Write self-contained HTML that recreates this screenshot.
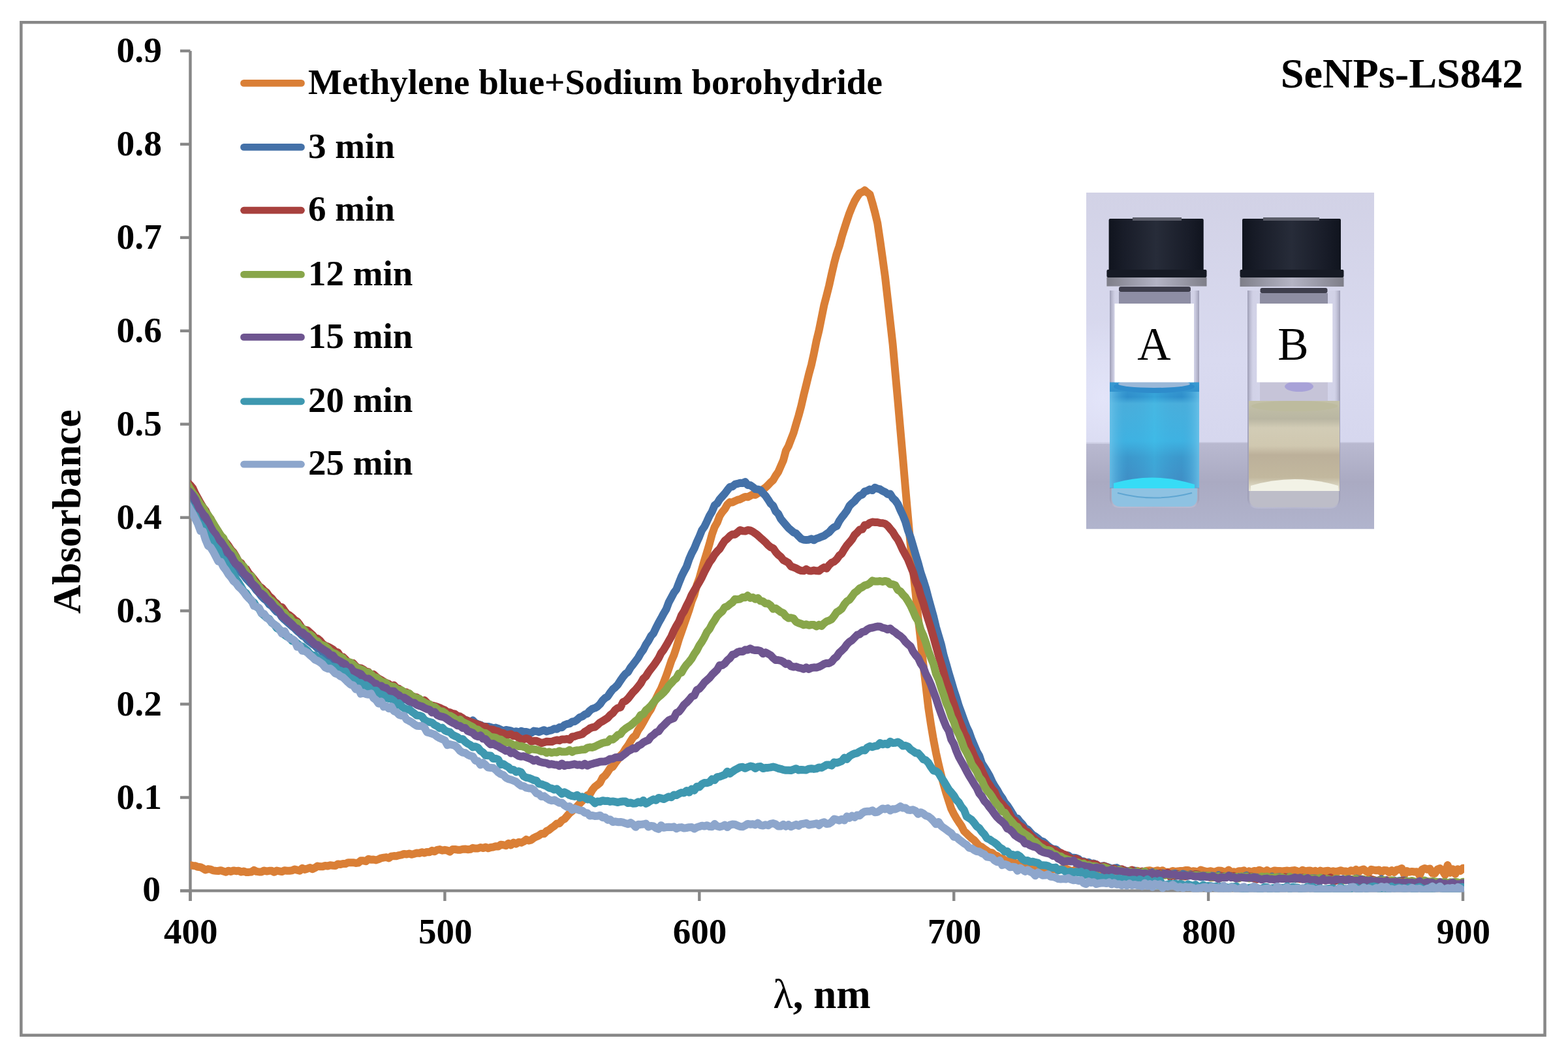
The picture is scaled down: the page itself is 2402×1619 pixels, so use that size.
<!DOCTYPE html>
<html><head><meta charset="utf-8"><title>SeNPs-LS842 absorbance</title>
<style>
html,body{margin:0;padding:0;background:#fff;}
body{width:2402px;height:1619px;overflow:hidden;}
svg{display:block;}
.t{font-family:"Liberation Serif","Times New Roman",serif;font-weight:bold;fill:#000;}
</style></head><body>
<svg width="2402" height="1619" viewBox="0 0 2402 1619">
<rect x="0" y="0" width="2402" height="1619" fill="#fff"/>
<rect x="32.35" y="34.25" width="2334.2" height="1551.4" fill="none" stroke="#878787" stroke-width="4.5"/>
<g stroke="#878787" stroke-width="4.4" fill="none">
<line x1="291.5" y1="78" x2="291.5" y2="1380"/>
<line x1="276" y1="1364.4" x2="2242.5" y2="1364.4"/>
<line x1="276" y1="1364.4" x2="291.5" y2="1364.4"/><line x1="276" y1="1221.5" x2="291.5" y2="1221.5"/><line x1="276" y1="1078.5" x2="291.5" y2="1078.5"/><line x1="276" y1="935.6" x2="291.5" y2="935.6"/><line x1="276" y1="792.7" x2="291.5" y2="792.7"/><line x1="276" y1="649.7" x2="291.5" y2="649.7"/><line x1="276" y1="506.8" x2="291.5" y2="506.8"/><line x1="276" y1="363.9" x2="291.5" y2="363.9"/><line x1="276" y1="220.9" x2="291.5" y2="220.9"/><line x1="276" y1="78.0" x2="291.5" y2="78.0"/><line x1="291.5" y1="1364.4" x2="291.5" y2="1380"/><line x1="681.4" y1="1364.4" x2="681.4" y2="1380"/><line x1="1071.3" y1="1364.4" x2="1071.3" y2="1380"/><line x1="1461.2" y1="1364.4" x2="1461.2" y2="1380"/><line x1="1851.1" y1="1364.4" x2="1851.1" y2="1380"/><line x1="2241.0" y1="1364.4" x2="2241.0" y2="1380"/>
</g>
<g class="t" font-size="55">
<text x="246.0" y="1379.6" text-anchor="end" font-size="55.6">0</text><text x="248.0" y="1238.8" text-anchor="end" font-size="55.6">0.1</text><text x="248.0" y="1095.8" text-anchor="end" font-size="55.6">0.2</text><text x="248.0" y="952.9" text-anchor="end" font-size="55.6">0.3</text><text x="248.0" y="810.0" text-anchor="end" font-size="55.6">0.4</text><text x="248.0" y="667.0" text-anchor="end" font-size="55.6">0.5</text><text x="248.0" y="524.1" text-anchor="end" font-size="55.6">0.6</text><text x="248.0" y="381.2" text-anchor="end" font-size="55.6">0.7</text><text x="248.0" y="238.2" text-anchor="end" font-size="55.6">0.8</text><text x="248.0" y="95.3" text-anchor="end" font-size="55.6">0.9</text>
<text x="292.3" y="1445" text-anchor="middle">400</text><text x="682.2" y="1445" text-anchor="middle">500</text><text x="1072.1" y="1445" text-anchor="middle">600</text><text x="1462.0" y="1445" text-anchor="middle">700</text><text x="1851.9" y="1445" text-anchor="middle">800</text><text x="2241.8" y="1445" text-anchor="middle">900</text>
</g>
<g fill="none" stroke-width="12" stroke-linejoin="round" stroke-linecap="butt" clip-path="url(#plotclip)">
<clipPath id="plotclip"><rect x="291.5" y="40" width="1951.5" height="1326.5"/></clipPath>
<path d="M283.5 1322.5 L291.5 1325.3 L295.4 1325.9 L299.3 1326.3 L303.2 1327.8 L307.1 1328.2 L311.0 1330.2 L314.9 1332.4 L318.8 1331.1 L322.7 1331.6 L326.6 1333.4 L330.5 1333.8 L334.4 1334.0 L338.3 1333.2 L342.2 1334.6 L346.1 1335.7 L350.0 1333.7 L353.9 1334.9 L357.8 1333.4 L361.7 1334.2 L365.6 1333.7 L369.5 1335.5 L373.4 1334.4 L377.3 1336.1 L381.2 1335.9 L385.1 1335.5 L389.0 1332.9 L392.9 1334.9 L396.8 1335.4 L400.7 1335.4 L404.6 1333.5 L408.5 1334.5 L412.4 1333.8 L416.3 1333.8 L420.2 1335.8 L424.1 1333.6 L428.0 1334.3 L431.9 1335.1 L435.8 1333.3 L439.7 1333.7 L443.6 1333.7 L447.5 1333.3 L451.4 1331.6 L455.3 1332.6 L459.2 1333.6 L463.1 1329.8 L467.0 1331.9 L470.9 1330.5 L474.8 1329.0 L478.7 1331.2 L482.6 1329.2 L486.5 1326.5 L490.3 1327.3 L494.2 1327.3 L498.1 1326.0 L502.0 1326.5 L505.9 1325.3 L509.8 1325.7 L513.7 1326.1 L517.6 1323.4 L521.5 1324.0 L525.4 1322.9 L529.3 1323.1 L533.2 1321.2 L537.1 1321.3 L541.0 1321.2 L544.9 1321.9 L548.8 1321.6 L552.7 1318.3 L556.6 1318.3 L560.5 1319.2 L564.4 1315.7 L568.3 1316.8 L572.2 1316.5 L576.1 1317.4 L580.0 1316.1 L583.9 1314.3 L587.8 1313.6 L591.7 1313.1 L595.6 1314.4 L599.5 1311.6 L603.4 1311.1 L607.3 1311.2 L611.2 1310.1 L615.1 1309.4 L619.0 1307.9 L622.9 1308.5 L626.8 1307.5 L630.7 1308.8 L634.6 1307.7 L638.5 1306.5 L642.4 1306.9 L646.3 1305.3 L650.2 1306.5 L654.1 1304.9 L658.0 1305.2 L661.9 1302.8 L665.8 1304.3 L669.7 1301.8 L673.6 1301.1 L677.5 1302.7 L681.4 1301.8 L685.3 1302.7 L689.2 1304.7 L693.1 1301.1 L697.0 1301.0 L700.9 1301.7 L704.8 1301.8 L708.7 1300.8 L712.6 1300.5 L716.5 1301.2 L720.4 1300.8 L724.3 1298.8 L728.2 1299.6 L732.1 1299.5 L736.0 1298.0 L739.9 1299.1 L743.8 1297.6 L747.7 1299.3 L751.6 1298.0 L755.5 1297.5 L759.4 1296.3 L763.3 1296.4 L767.2 1293.8 L771.1 1294.2 L775.0 1295.2 L778.9 1291.8 L782.8 1294.4 L786.7 1290.7 L790.6 1292.6 L794.5 1289.9 L798.4 1290.7 L802.3 1288.9 L806.2 1285.9 L810.1 1287.6 L814.0 1286.4 L817.9 1283.3 L821.8 1281.4 L825.7 1279.7 L829.6 1276.9 L833.5 1277.1 L837.4 1273.0 L841.3 1271.1 L845.2 1267.7 L849.1 1265.2 L853.0 1261.5 L856.9 1261.3 L860.8 1256.5 L864.7 1254.5 L868.6 1250.0 L872.5 1245.6 L876.4 1242.4 L880.2 1238.3 L884.1 1235.1 L888.0 1230.8 L891.9 1226.8 L895.8 1221.6 L899.7 1218.1 L903.6 1216.6 L907.5 1209.8 L911.4 1205.0 L915.3 1202.1 L919.2 1198.8 L923.1 1191.1 L927.0 1187.8 L930.9 1182.6 L934.8 1176.6 L938.7 1174.4 L942.6 1168.6 L946.5 1163.6 L950.4 1157.5 L954.3 1153.6 L958.2 1147.1 L962.1 1142.0 L966.0 1135.3 L969.9 1129.4 L973.8 1126.3 L977.7 1118.2 L981.6 1112.8 L985.5 1106.0 L989.4 1098.9 L993.3 1091.9 L997.2 1086.1 L1001.1 1077.6 L1005.0 1070.0 L1008.9 1062.1 L1012.8 1054.8 L1016.7 1045.3 L1020.6 1035.3 L1024.5 1024.0 L1028.4 1012.3 L1032.3 1003.5 L1036.2 991.8 L1040.1 978.8 L1044.0 967.7 L1047.9 956.5 L1051.8 945.2 L1055.7 934.0 L1059.6 921.0 L1063.5 911.5 L1067.4 896.4 L1071.3 885.9 L1075.2 871.9 L1079.1 858.4 L1083.0 845.9 L1086.9 832.8 L1090.8 818.3 L1094.7 807.3 L1098.6 800.6 L1102.5 790.2 L1106.4 784.3 L1110.3 779.7 L1114.2 772.8 L1118.1 769.1 L1122.0 769.5 L1125.9 767.4 L1129.8 765.7 L1133.7 764.8 L1137.6 762.7 L1141.5 760.9 L1145.4 761.3 L1149.3 759.3 L1153.2 757.2 L1157.1 758.0 L1161.0 755.4 L1164.9 753.7 L1168.8 749.5 L1172.7 746.8 L1176.6 742.9 L1180.5 738.9 L1184.4 735.3 L1188.3 728.5 L1192.2 722.8 L1196.1 713.9 L1200.0 705.0 L1203.9 690.4 L1207.8 683.4 L1211.7 673.1 L1215.6 663.1 L1219.5 649.6 L1223.4 636.6 L1227.3 622.1 L1231.2 605.1 L1235.1 589.5 L1239.0 573.4 L1242.9 559.1 L1246.8 541.5 L1250.7 522.0 L1254.6 506.0 L1258.5 486.6 L1262.4 467.3 L1266.3 452.5 L1270.1 437.4 L1274.0 419.6 L1277.9 402.8 L1281.8 388.4 L1285.7 376.8 L1289.6 362.6 L1293.5 349.9 L1297.4 337.8 L1301.3 326.4 L1305.2 316.7 L1309.1 308.2 L1313.0 301.7 L1316.9 295.9 L1320.8 294.3 L1324.7 291.5 L1328.6 294.9 L1332.5 297.8 L1336.4 310.9 L1340.3 325.4 L1344.2 341.6 L1348.1 367.8 L1352.0 395.5 L1355.9 423.7 L1359.8 457.8 L1363.7 492.6 L1367.6 527.3 L1371.5 571.0 L1375.4 613.7 L1379.3 658.6 L1383.2 702.8 L1387.1 748.8 L1391.0 792.6 L1394.9 835.5 L1398.8 873.4 L1402.7 909.7 L1406.6 947.4 L1410.5 981.6 L1414.4 1018.2 L1418.3 1050.4 L1422.2 1084.1 L1426.1 1109.9 L1430.0 1133.0 L1433.9 1153.2 L1437.8 1170.8 L1441.7 1187.2 L1445.6 1201.5 L1449.5 1215.0 L1453.4 1227.2 L1457.3 1239.0 L1461.2 1246.7 L1465.1 1253.5 L1469.0 1259.5 L1472.9 1265.2 L1476.8 1272.9 L1480.7 1276.5 L1484.6 1280.4 L1488.5 1284.0 L1492.4 1286.9 L1496.3 1291.5 L1500.2 1295.8 L1504.1 1297.4 L1508.0 1300.4 L1511.9 1303.0 L1515.8 1305.8 L1519.7 1306.2 L1523.6 1309.7 L1527.5 1310.9 L1531.4 1314.6 L1535.3 1314.4 L1539.2 1317.4 L1543.1 1319.8 L1547.0 1319.1 L1550.9 1319.9 L1554.8 1321.9 L1558.7 1322.7 L1562.6 1322.5 L1566.5 1325.0 L1570.4 1327.5 L1574.3 1325.7 L1578.2 1326.4 L1582.1 1326.1 L1586.0 1328.1 L1589.9 1326.9 L1593.8 1327.5 L1597.7 1330.6 L1601.6 1328.6 L1605.5 1331.1 L1609.4 1332.0 L1613.3 1330.9 L1617.2 1331.5 L1621.1 1333.3 L1625.0 1331.2 L1628.9 1331.0 L1632.8 1330.4 L1636.7 1332.2 L1640.6 1334.0 L1644.5 1333.6 L1648.4 1331.7 L1652.3 1332.0 L1656.2 1332.5 L1660.0 1333.6 L1663.9 1333.2 L1667.8 1333.8 L1671.7 1334.0 L1675.6 1333.4 L1679.5 1333.8 L1683.4 1334.2 L1687.3 1333.9 L1691.2 1334.6 L1695.1 1336.2 L1699.0 1334.8 L1702.9 1334.3 L1706.8 1332.4 L1710.7 1334.7 L1714.6 1332.2 L1718.5 1332.8 L1722.4 1335.3 L1726.3 1335.2 L1730.2 1334.3 L1734.1 1332.6 L1738.0 1334.1 L1741.9 1333.7 L1745.8 1335.2 L1749.7 1337.0 L1753.6 1334.7 L1757.5 1333.6 L1761.4 1333.2 L1765.3 1334.4 L1769.2 1334.3 L1773.1 1333.2 L1777.0 1334.6 L1780.9 1333.2 L1784.8 1335.7 L1788.7 1335.7 L1792.6 1335.7 L1796.5 1334.0 L1800.4 1335.1 L1804.3 1334.4 L1808.2 1334.1 L1812.1 1334.1 L1816.0 1333.1 L1819.9 1332.9 L1823.8 1335.4 L1827.7 1334.3 L1831.6 1334.8 L1835.5 1335.6 L1839.4 1332.6 L1843.3 1333.7 L1847.2 1334.8 L1851.1 1335.0 L1855.0 1334.2 L1858.9 1335.8 L1862.8 1334.9 L1866.7 1333.4 L1870.6 1333.7 L1874.5 1335.6 L1878.4 1335.2 L1882.3 1332.6 L1886.2 1336.2 L1890.1 1335.3 L1894.0 1336.1 L1897.9 1334.2 L1901.8 1334.3 L1905.7 1333.4 L1909.6 1337.4 L1913.5 1334.4 L1917.4 1336.3 L1921.3 1333.9 L1925.2 1334.7 L1929.1 1332.7 L1933.0 1334.1 L1936.9 1335.6 L1940.8 1333.1 L1944.7 1335.7 L1948.6 1334.9 L1952.5 1333.4 L1956.4 1333.9 L1960.3 1334.0 L1964.2 1334.4 L1968.1 1333.9 L1972.0 1333.6 L1975.9 1334.2 L1979.8 1333.4 L1983.7 1333.1 L1987.6 1334.4 L1991.5 1335.5 L1995.4 1332.8 L1999.3 1334.5 L2003.2 1333.8 L2007.1 1333.4 L2011.0 1335.4 L2014.9 1333.9 L2018.8 1336.1 L2022.7 1333.6 L2026.6 1334.9 L2030.5 1334.2 L2034.4 1333.7 L2038.3 1335.1 L2042.2 1334.3 L2046.1 1335.2 L2049.9 1334.4 L2053.8 1333.2 L2057.7 1334.4 L2061.6 1334.6 L2065.5 1335.8 L2069.4 1333.3 L2073.3 1334.5 L2077.2 1331.9 L2081.1 1335.7 L2085.0 1332.8 L2088.9 1331.5 L2092.8 1334.6 L2096.7 1336.8 L2100.6 1331.8 L2104.5 1332.6 L2108.4 1333.3 L2112.3 1332.5 L2116.2 1335.7 L2120.1 1333.1 L2124.0 1333.3 L2127.9 1336.3 L2131.8 1333.1 L2135.7 1336.0 L2139.6 1332.5 L2143.5 1331.8 L2147.4 1330.1 L2151.3 1340.1 L2155.2 1334.1 L2159.1 1335.7 L2163.0 1334.9 L2166.9 1335.5 L2170.8 1335.2 L2174.7 1340.9 L2178.6 1331.7 L2182.5 1330.0 L2186.4 1331.7 L2190.3 1330.5 L2194.2 1337.6 L2198.1 1337.9 L2202.0 1331.6 L2205.9 1330.1 L2209.8 1333.8 L2213.7 1339.9 L2217.6 1325.1 L2221.5 1336.9 L2225.4 1331.2 L2229.3 1338.7 L2233.2 1331.2 L2237.1 1334.0 L2241.0 1329.7 L2249.0 1331.6" stroke="#DA7F36"/><path d="M283.5 754.0 L291.5 760.2 L295.4 762.2 L299.3 769.1 L303.2 775.1 L307.1 783.7 L311.0 790.9 L314.9 797.4 L318.8 803.9 L322.7 809.0 L326.6 816.4 L330.5 822.4 L334.4 829.8 L338.3 836.2 L342.2 839.6 L346.1 844.5 L350.0 850.7 L353.9 855.4 L357.8 860.5 L361.7 866.3 L365.6 870.3 L369.5 877.1 L373.4 881.1 L377.3 886.3 L381.2 890.5 L385.1 894.5 L389.0 898.8 L392.9 904.1 L396.8 908.1 L400.7 913.3 L404.6 917.3 L408.5 920.0 L412.4 925.7 L416.3 928.2 L420.2 932.9 L424.1 937.2 L428.0 939.1 L431.9 945.3 L435.8 949.1 L439.7 952.5 L443.6 955.8 L447.5 959.4 L451.4 962.3 L455.3 966.5 L459.2 969.6 L463.1 973.7 L467.0 975.5 L470.9 980.4 L474.8 983.5 L478.7 986.3 L482.6 989.1 L486.5 993.2 L490.3 993.8 L494.2 999.1 L498.1 1001.7 L502.0 1004.6 L505.9 1007.5 L509.8 1009.2 L513.7 1012.3 L517.6 1016.0 L521.5 1018.4 L525.4 1020.7 L529.3 1021.4 L533.2 1026.1 L537.1 1029.3 L541.0 1031.5 L544.9 1033.0 L548.8 1033.4 L552.7 1038.4 L556.6 1039.5 L560.5 1039.0 L564.4 1044.4 L568.3 1044.5 L572.2 1046.7 L576.1 1049.5 L580.0 1053.6 L583.9 1053.8 L587.8 1056.4 L591.7 1059.9 L595.6 1061.6 L599.5 1061.6 L603.4 1063.2 L607.3 1063.8 L611.2 1066.2 L615.1 1069.1 L619.0 1070.8 L622.9 1072.1 L626.8 1074.7 L630.7 1074.3 L634.6 1076.6 L638.5 1079.0 L642.4 1080.4 L646.3 1082.4 L650.2 1083.1 L654.1 1083.8 L658.0 1085.9 L661.9 1085.8 L665.8 1086.4 L669.7 1090.2 L673.6 1090.9 L677.5 1092.6 L681.4 1091.6 L685.3 1094.4 L689.2 1095.4 L693.1 1096.3 L697.0 1096.0 L700.9 1099.3 L704.8 1101.8 L708.7 1102.4 L712.6 1102.5 L716.5 1104.3 L720.4 1106.2 L724.3 1103.5 L728.2 1107.4 L732.1 1109.2 L736.0 1110.4 L739.9 1112.5 L743.8 1112.9 L747.7 1112.9 L751.6 1113.8 L755.5 1115.2 L759.4 1114.6 L763.3 1116.0 L767.2 1117.8 L771.1 1119.6 L775.0 1118.0 L778.9 1118.7 L782.8 1119.5 L786.7 1121.3 L790.6 1120.2 L794.5 1122.2 L798.4 1119.8 L802.3 1120.9 L806.2 1121.0 L810.1 1122.2 L814.0 1122.5 L817.9 1119.6 L821.8 1120.1 L825.7 1121.2 L829.6 1119.7 L833.5 1118.2 L837.4 1120.4 L841.3 1119.1 L845.2 1118.3 L849.1 1116.2 L853.0 1116.8 L856.9 1114.1 L860.8 1114.2 L864.7 1110.5 L868.6 1109.0 L872.5 1108.4 L876.4 1105.5 L880.2 1105.0 L884.1 1102.4 L888.0 1098.8 L891.9 1097.4 L895.8 1094.4 L899.7 1093.0 L903.6 1088.5 L907.5 1085.7 L911.4 1084.4 L915.3 1082.2 L919.2 1078.5 L923.1 1072.8 L927.0 1069.2 L930.9 1066.8 L934.8 1060.9 L938.7 1055.8 L942.6 1052.7 L946.5 1048.6 L950.4 1042.5 L954.3 1036.8 L958.2 1032.1 L962.1 1029.3 L966.0 1022.5 L969.9 1017.7 L973.8 1012.5 L977.7 1007.2 L981.6 1000.3 L985.5 995.1 L989.4 987.4 L993.3 981.6 L997.2 974.3 L1001.1 969.9 L1005.0 961.7 L1008.9 953.9 L1012.8 947.0 L1016.7 939.7 L1020.6 933.1 L1024.5 922.7 L1028.4 915.4 L1032.3 907.9 L1036.2 902.8 L1040.1 892.6 L1044.0 882.9 L1047.9 875.1 L1051.8 867.8 L1055.7 856.4 L1059.6 847.4 L1063.5 840.2 L1067.4 830.5 L1071.3 821.9 L1075.2 812.1 L1079.1 806.6 L1083.0 798.6 L1086.9 790.1 L1090.8 783.4 L1094.7 774.1 L1098.6 771.1 L1102.5 764.7 L1106.4 760.4 L1110.3 756.0 L1114.2 750.8 L1118.1 745.9 L1122.0 745.3 L1125.9 741.9 L1129.8 740.9 L1133.7 739.8 L1137.6 740.0 L1141.5 738.2 L1145.4 742.9 L1149.3 743.2 L1153.2 745.9 L1157.1 749.1 L1161.0 749.6 L1164.9 750.7 L1168.8 755.4 L1172.7 759.4 L1176.6 765.1 L1180.5 771.2 L1184.4 774.7 L1188.3 783.2 L1192.2 787.1 L1196.1 794.7 L1200.0 799.5 L1203.9 804.1 L1207.8 808.7 L1211.7 812.1 L1215.6 815.4 L1219.5 817.1 L1223.4 821.3 L1227.3 825.2 L1231.2 826.8 L1235.1 826.9 L1239.0 826.7 L1242.9 825.3 L1246.8 827.3 L1250.7 824.9 L1254.6 823.8 L1258.5 822.1 L1262.4 820.6 L1266.3 817.7 L1270.1 815.2 L1274.0 810.7 L1277.9 807.4 L1281.8 805.7 L1285.7 798.0 L1289.6 792.4 L1293.5 787.6 L1297.4 782.2 L1301.3 774.8 L1305.2 770.8 L1309.1 767.6 L1313.0 762.8 L1316.9 759.2 L1320.8 757.7 L1324.7 752.8 L1328.6 751.7 L1332.5 749.6 L1336.4 751.0 L1340.3 746.9 L1344.2 748.5 L1348.1 749.4 L1352.0 752.0 L1355.9 753.7 L1359.8 756.9 L1363.7 756.6 L1367.6 762.9 L1371.5 766.5 L1375.4 772.2 L1379.3 781.3 L1383.2 789.5 L1387.1 799.3 L1391.0 812.7 L1394.9 823.3 L1398.8 836.4 L1402.7 850.0 L1406.6 862.8 L1410.5 877.3 L1414.4 888.8 L1418.3 901.1 L1422.2 916.0 L1426.1 930.1 L1430.0 944.2 L1433.9 960.5 L1437.8 973.8 L1441.7 986.7 L1445.6 1003.8 L1449.5 1016.9 L1453.4 1030.9 L1457.3 1043.8 L1461.2 1057.1 L1465.1 1068.6 L1469.0 1081.7 L1472.9 1092.2 L1476.8 1103.0 L1480.7 1113.4 L1484.6 1121.4 L1488.5 1132.4 L1492.4 1141.5 L1496.3 1150.9 L1500.2 1157.7 L1504.1 1169.1 L1508.0 1175.3 L1511.9 1181.4 L1515.8 1188.2 L1519.7 1196.8 L1523.6 1203.8 L1527.5 1209.7 L1531.4 1216.9 L1535.3 1222.2 L1539.2 1229.4 L1543.1 1233.7 L1547.0 1239.8 L1550.9 1246.1 L1554.8 1252.8 L1558.7 1253.7 L1562.6 1258.8 L1566.5 1262.7 L1570.4 1268.6 L1574.3 1270.4 L1578.2 1274.8 L1582.1 1278.9 L1586.0 1281.2 L1589.9 1284.3 L1593.8 1287.8 L1597.7 1288.9 L1601.6 1292.2 L1605.5 1295.8 L1609.4 1298.8 L1613.3 1300.6 L1617.2 1300.9 L1621.1 1304.2 L1625.0 1307.5 L1628.9 1308.9 L1632.8 1309.8 L1636.7 1310.5 L1640.6 1313.6 L1644.5 1313.7 L1648.4 1314.3 L1652.3 1315.9 L1656.2 1319.6 L1660.0 1319.3 L1663.9 1321.4 L1667.8 1320.7 L1671.7 1323.2 L1675.6 1322.5 L1679.5 1324.0 L1683.4 1327.8 L1687.3 1326.8 L1691.2 1326.3 L1695.1 1327.6 L1699.0 1328.9 L1702.9 1330.7 L1706.8 1329.7 L1710.7 1329.1 L1714.6 1331.4 L1718.5 1332.4 L1722.4 1333.0 L1726.3 1334.9 L1730.2 1334.3 L1734.1 1335.3 L1738.0 1333.6 L1741.9 1336.2 L1745.8 1337.9 L1749.7 1336.8 L1753.6 1336.6 L1757.5 1336.7 L1761.4 1338.8 L1765.3 1336.1 L1769.2 1337.2 L1773.1 1338.1 L1777.0 1338.6 L1780.9 1337.5 L1784.8 1338.5 L1788.7 1338.1 L1792.6 1338.7 L1796.5 1338.7 L1800.4 1337.8 L1804.3 1339.2 L1808.2 1340.4 L1812.1 1338.5 L1816.0 1339.5 L1819.9 1340.7 L1823.8 1339.0 L1827.7 1340.5 L1831.6 1339.3 L1835.5 1341.9 L1839.4 1343.4 L1843.3 1343.2 L1847.2 1340.9 L1851.1 1342.1 L1855.0 1341.6 L1858.9 1341.7 L1862.8 1343.5 L1866.7 1340.4 L1870.6 1343.2 L1874.5 1342.1 L1878.4 1343.9 L1882.3 1342.6 L1886.2 1341.8 L1890.1 1343.0 L1894.0 1343.6 L1897.9 1343.0 L1901.8 1343.6 L1905.7 1342.6 L1909.6 1340.9 L1913.5 1344.4 L1917.4 1344.3 L1921.3 1343.8 L1925.2 1343.8 L1929.1 1344.9 L1933.0 1343.4 L1936.9 1343.2 L1940.8 1343.9 L1944.7 1345.5 L1948.6 1342.7 L1952.5 1345.7 L1956.4 1343.7 L1960.3 1343.3 L1964.2 1346.0 L1968.1 1344.6 L1972.0 1343.4 L1975.9 1344.5 L1979.8 1346.0 L1983.7 1346.4 L1987.6 1344.7 L1991.5 1345.7 L1995.4 1346.2 L1999.3 1344.8 L2003.2 1346.0 L2007.1 1345.7 L2011.0 1345.2 L2014.9 1345.4 L2018.8 1346.1 L2022.7 1346.2 L2026.6 1345.6 L2030.5 1345.9 L2034.4 1347.7 L2038.3 1346.8 L2042.2 1347.7 L2046.1 1348.2 L2049.9 1347.6 L2053.8 1349.6 L2057.7 1346.3 L2061.6 1348.2 L2065.5 1347.1 L2069.4 1349.6 L2073.3 1349.5 L2077.2 1345.6 L2081.1 1346.8 L2085.0 1348.8 L2088.9 1349.0 L2092.8 1349.1 L2096.7 1348.3 L2100.6 1349.0 L2104.5 1349.4 L2108.4 1348.7 L2112.3 1350.0 L2116.2 1346.5 L2120.1 1349.8 L2124.0 1348.1 L2127.9 1350.4 L2131.8 1349.2 L2135.7 1348.6 L2139.6 1350.1 L2143.5 1348.9 L2147.4 1349.0 L2151.3 1348.4 L2155.2 1350.2 L2159.1 1350.9 L2163.0 1351.6 L2166.9 1350.4 L2170.8 1351.9 L2174.7 1350.9 L2178.6 1350.9 L2182.5 1351.7 L2186.4 1352.4 L2190.3 1351.0 L2194.2 1351.2 L2198.1 1351.4 L2202.0 1351.8 L2205.9 1350.9 L2209.8 1353.1 L2213.7 1351.7 L2217.6 1352.7 L2221.5 1351.5 L2225.4 1352.9 L2229.3 1353.0 L2233.2 1352.3 L2237.1 1355.1 L2241.0 1353.4 L2249.0 1355.2" stroke="#4471A8"/><path d="M283.5 735.4 L291.5 743.0 L295.4 747.8 L299.3 756.3 L303.2 763.2 L307.1 770.3 L311.0 776.9 L314.9 781.9 L318.8 790.2 L322.7 794.5 L326.6 803.6 L330.5 808.5 L334.4 814.4 L338.3 820.8 L342.2 827.1 L346.1 830.8 L350.0 835.9 L353.9 842.0 L357.8 846.2 L361.7 852.6 L365.6 860.4 L369.5 862.5 L373.4 869.2 L377.3 871.8 L381.2 878.3 L385.1 882.2 L389.0 887.0 L392.9 892.2 L396.8 897.8 L400.7 900.4 L404.6 904.6 L408.5 907.5 L412.4 913.3 L416.3 916.4 L420.2 921.5 L424.1 924.5 L428.0 930.2 L431.9 929.9 L435.8 935.5 L439.7 940.4 L443.6 942.6 L447.5 945.7 L451.4 949.7 L455.3 951.9 L459.2 957.0 L463.1 962.8 L467.0 964.7 L470.9 965.4 L474.8 968.9 L478.7 972.5 L482.6 977.1 L486.5 978.1 L490.3 981.3 L494.2 986.0 L498.1 988.8 L502.0 990.3 L505.9 992.3 L509.8 994.6 L513.7 998.3 L517.6 999.3 L521.5 1005.2 L525.4 1006.3 L529.3 1010.1 L533.2 1014.2 L537.1 1015.9 L541.0 1015.8 L544.9 1020.4 L548.8 1023.1 L552.7 1023.4 L556.6 1025.5 L560.5 1028.7 L564.4 1029.3 L568.3 1034.9 L572.2 1032.8 L576.1 1036.4 L580.0 1039.4 L583.9 1041.6 L587.8 1044.1 L591.7 1046.2 L595.6 1047.7 L599.5 1051.2 L603.4 1049.5 L607.3 1053.8 L611.2 1055.0 L615.1 1057.8 L619.0 1059.8 L622.9 1060.5 L626.8 1062.6 L630.7 1066.0 L634.6 1067.4 L638.5 1068.1 L642.4 1072.9 L646.3 1075.0 L650.2 1072.6 L654.1 1076.3 L658.0 1080.5 L661.9 1080.4 L665.8 1081.5 L669.7 1082.8 L673.6 1084.1 L677.5 1086.2 L681.4 1087.6 L685.3 1090.7 L689.2 1091.2 L693.1 1092.9 L697.0 1093.7 L700.9 1096.7 L704.8 1097.5 L708.7 1099.9 L712.6 1102.9 L716.5 1103.9 L720.4 1105.6 L724.3 1107.1 L728.2 1108.3 L732.1 1109.7 L736.0 1111.0 L739.9 1113.7 L743.8 1113.2 L747.7 1117.3 L751.6 1117.2 L755.5 1117.7 L759.4 1119.4 L763.3 1120.4 L767.2 1122.6 L771.1 1122.9 L775.0 1126.1 L778.9 1125.1 L782.8 1124.5 L786.7 1127.3 L790.6 1126.8 L794.5 1130.0 L798.4 1132.1 L802.3 1132.4 L806.2 1131.0 L810.1 1132.3 L814.0 1135.8 L817.9 1134.7 L821.8 1134.8 L825.7 1136.3 L829.6 1138.2 L833.5 1137.1 L837.4 1135.8 L841.3 1136.0 L845.2 1136.1 L849.1 1134.5 L853.0 1133.5 L856.9 1134.2 L860.8 1132.4 L864.7 1132.6 L868.6 1131.8 L872.5 1133.2 L876.4 1128.5 L880.2 1128.0 L884.1 1126.5 L888.0 1125.6 L891.9 1124.5 L895.8 1121.0 L899.7 1118.7 L903.6 1115.7 L907.5 1114.2 L911.4 1113.5 L915.3 1110.4 L919.2 1106.7 L923.1 1104.6 L927.0 1102.1 L930.9 1099.6 L934.8 1095.3 L938.7 1092.3 L942.6 1087.2 L946.5 1084.3 L950.4 1083.6 L954.3 1075.5 L958.2 1073.6 L962.1 1070.0 L966.0 1065.0 L969.9 1060.1 L973.8 1056.3 L977.7 1051.5 L981.6 1046.5 L985.5 1039.4 L989.4 1036.0 L993.3 1029.8 L997.2 1024.5 L1001.1 1019.6 L1005.0 1014.0 L1008.9 1008.1 L1012.8 1000.2 L1016.7 995.2 L1020.6 988.7 L1024.5 981.8 L1028.4 975.0 L1032.3 966.0 L1036.2 958.6 L1040.1 952.2 L1044.0 942.2 L1047.9 936.3 L1051.8 927.8 L1055.7 920.3 L1059.6 911.2 L1063.5 904.5 L1067.4 897.9 L1071.3 891.5 L1075.2 884.3 L1079.1 875.9 L1083.0 868.7 L1086.9 861.2 L1090.8 856.1 L1094.7 849.3 L1098.6 844.6 L1102.5 840.7 L1106.4 834.1 L1110.3 828.2 L1114.2 825.1 L1118.1 821.1 L1122.0 818.5 L1125.9 818.7 L1129.8 815.5 L1133.7 812.0 L1137.6 813.3 L1141.5 813.6 L1145.4 812.0 L1149.3 812.5 L1153.2 814.4 L1157.1 817.1 L1161.0 820.1 L1164.9 823.7 L1168.8 827.1 L1172.7 830.7 L1176.6 834.8 L1180.5 838.1 L1184.4 839.7 L1188.3 845.4 L1192.2 849.8 L1196.1 852.9 L1200.0 857.9 L1203.9 859.9 L1207.8 862.2 L1211.7 867.5 L1215.6 868.9 L1219.5 870.3 L1223.4 872.7 L1227.3 874.1 L1231.2 874.3 L1235.1 871.9 L1239.0 874.2 L1242.9 874.5 L1246.8 873.6 L1250.7 874.3 L1254.6 874.5 L1258.5 871.4 L1262.4 869.1 L1266.3 870.6 L1270.1 865.5 L1274.0 861.8 L1277.9 860.2 L1281.8 856.6 L1285.7 851.0 L1289.6 847.8 L1293.5 841.1 L1297.4 835.2 L1301.3 830.9 L1305.2 826.2 L1309.1 819.5 L1313.0 815.9 L1316.9 811.3 L1320.8 810.9 L1324.7 804.2 L1328.6 804.2 L1332.5 800.9 L1336.4 799.6 L1340.3 799.9 L1344.2 800.0 L1348.1 801.0 L1352.0 801.3 L1355.9 802.3 L1359.8 805.2 L1363.7 810.1 L1367.6 814.7 L1371.5 821.1 L1375.4 826.3 L1379.3 834.2 L1383.2 842.7 L1387.1 849.8 L1391.0 857.0 L1394.9 866.8 L1398.8 876.4 L1402.7 890.2 L1406.6 898.5 L1410.5 912.3 L1414.4 923.7 L1418.3 937.6 L1422.2 950.0 L1426.1 962.3 L1430.0 975.9 L1433.9 989.9 L1437.8 1003.7 L1441.7 1016.4 L1445.6 1030.2 L1449.5 1044.9 L1453.4 1053.8 L1457.3 1068.1 L1461.2 1078.6 L1465.1 1091.0 L1469.0 1102.6 L1472.9 1112.0 L1476.8 1122.8 L1480.7 1129.8 L1484.6 1141.9 L1488.5 1148.8 L1492.4 1158.5 L1496.3 1166.1 L1500.2 1170.9 L1504.1 1180.3 L1508.0 1188.6 L1511.9 1196.9 L1515.8 1202.2 L1519.7 1208.6 L1523.6 1212.9 L1527.5 1222.0 L1531.4 1228.2 L1535.3 1231.7 L1539.2 1236.7 L1543.1 1240.3 L1547.0 1247.9 L1550.9 1254.6 L1554.8 1256.9 L1558.7 1261.8 L1562.6 1265.1 L1566.5 1267.4 L1570.4 1273.7 L1574.3 1274.4 L1578.2 1279.0 L1582.1 1282.7 L1586.0 1286.5 L1589.9 1288.9 L1593.8 1291.6 L1597.7 1293.0 L1601.6 1294.8 L1605.5 1298.6 L1609.4 1300.0 L1613.3 1301.4 L1617.2 1303.4 L1621.1 1306.1 L1625.0 1306.3 L1628.9 1308.5 L1632.8 1309.8 L1636.7 1313.3 L1640.6 1314.9 L1644.5 1318.0 L1648.4 1315.4 L1652.3 1317.5 L1656.2 1320.4 L1660.0 1320.2 L1663.9 1321.2 L1667.8 1324.4 L1671.7 1323.2 L1675.6 1323.3 L1679.5 1324.1 L1683.4 1326.8 L1687.3 1327.6 L1691.2 1326.6 L1695.1 1327.9 L1699.0 1330.3 L1702.9 1331.1 L1706.8 1330.5 L1710.7 1332.6 L1714.6 1333.2 L1718.5 1331.2 L1722.4 1333.4 L1726.3 1334.7 L1730.2 1334.1 L1734.1 1332.8 L1738.0 1335.3 L1741.9 1336.9 L1745.8 1338.2 L1749.7 1334.4 L1753.6 1340.0 L1757.5 1336.2 L1761.4 1338.8 L1765.3 1339.3 L1769.2 1339.3 L1773.1 1338.7 L1777.0 1337.5 L1780.9 1339.7 L1784.8 1338.4 L1788.7 1336.6 L1792.6 1342.7 L1796.5 1340.6 L1800.4 1342.0 L1804.3 1339.2 L1808.2 1342.0 L1812.1 1342.3 L1816.0 1342.4 L1819.9 1340.9 L1823.8 1339.7 L1827.7 1341.0 L1831.6 1338.9 L1835.5 1339.6 L1839.4 1341.7 L1843.3 1340.7 L1847.2 1341.7 L1851.1 1341.9 L1855.0 1344.3 L1858.9 1343.7 L1862.8 1342.4 L1866.7 1343.9 L1870.6 1341.8 L1874.5 1342.4 L1878.4 1343.9 L1882.3 1341.6 L1886.2 1342.8 L1890.1 1341.8 L1894.0 1343.5 L1897.9 1345.2 L1901.8 1342.7 L1905.7 1343.9 L1909.6 1342.8 L1913.5 1342.6 L1917.4 1342.6 L1921.3 1345.7 L1925.2 1346.8 L1929.1 1344.8 L1933.0 1343.6 L1936.9 1345.2 L1940.8 1344.2 L1944.7 1345.5 L1948.6 1345.1 L1952.5 1345.1 L1956.4 1345.6 L1960.3 1344.4 L1964.2 1344.7 L1968.1 1343.3 L1972.0 1344.8 L1975.9 1343.8 L1979.8 1345.3 L1983.7 1344.5 L1987.6 1345.8 L1991.5 1346.3 L1995.4 1344.3 L1999.3 1345.1 L2003.2 1345.0 L2007.1 1347.0 L2011.0 1348.2 L2014.9 1347.4 L2018.8 1346.1 L2022.7 1348.3 L2026.6 1345.1 L2030.5 1348.5 L2034.4 1346.3 L2038.3 1344.1 L2042.2 1350.2 L2046.1 1349.1 L2049.9 1346.3 L2053.8 1347.8 L2057.7 1347.5 L2061.6 1347.9 L2065.5 1346.3 L2069.4 1347.3 L2073.3 1348.7 L2077.2 1348.6 L2081.1 1349.8 L2085.0 1348.6 L2088.9 1351.3 L2092.8 1348.0 L2096.7 1349.2 L2100.6 1346.9 L2104.5 1347.8 L2108.4 1350.7 L2112.3 1348.3 L2116.2 1350.1 L2120.1 1349.5 L2124.0 1348.5 L2127.9 1349.4 L2131.8 1349.4 L2135.7 1349.5 L2139.6 1351.0 L2143.5 1351.0 L2147.4 1349.7 L2151.3 1349.5 L2155.2 1350.9 L2159.1 1350.6 L2163.0 1351.9 L2166.9 1353.9 L2170.8 1352.0 L2174.7 1351.1 L2178.6 1351.1 L2182.5 1350.4 L2186.4 1350.5 L2190.3 1350.5 L2194.2 1351.3 L2198.1 1351.3 L2202.0 1352.7 L2205.9 1351.6 L2209.8 1351.9 L2213.7 1350.9 L2217.6 1354.2 L2221.5 1353.0 L2225.4 1354.5 L2229.3 1353.6 L2233.2 1354.4 L2237.1 1352.6 L2241.0 1353.8 L2249.0 1356.2" stroke="#A8413E"/><path d="M283.5 734.9 L291.5 749.0 L295.4 755.2 L299.3 759.8 L303.2 766.3 L307.1 773.0 L311.0 777.0 L314.9 784.3 L318.8 788.9 L322.7 795.2 L326.6 801.3 L330.5 807.8 L334.4 814.1 L338.3 820.3 L342.2 824.0 L346.1 833.6 L350.0 838.4 L353.9 843.6 L357.8 847.9 L361.7 853.7 L365.6 859.8 L369.5 864.9 L373.4 867.7 L377.3 875.6 L381.2 883.0 L385.1 882.6 L389.0 890.6 L392.9 894.6 L396.8 898.7 L400.7 904.9 L404.6 906.4 L408.5 912.2 L412.4 917.9 L416.3 920.2 L420.2 924.0 L424.1 928.5 L428.0 931.7 L431.9 937.8 L435.8 938.7 L439.7 944.3 L443.6 945.5 L447.5 951.2 L451.4 953.7 L455.3 954.3 L459.2 960.5 L463.1 962.5 L467.0 966.4 L470.9 971.8 L474.8 971.9 L478.7 975.0 L482.6 980.8 L486.5 982.2 L490.3 986.7 L494.2 988.1 L498.1 989.6 L502.0 993.2 L505.9 997.4 L509.8 999.7 L513.7 1001.3 L517.6 1003.9 L521.5 1006.2 L525.4 1008.2 L529.3 1013.5 L533.2 1013.7 L537.1 1014.8 L541.0 1017.9 L544.9 1021.6 L548.8 1023.7 L552.7 1025.1 L556.6 1026.7 L560.5 1029.7 L564.4 1029.9 L568.3 1032.5 L572.2 1036.9 L576.1 1037.6 L580.0 1040.6 L583.9 1043.6 L587.8 1045.0 L591.7 1046.3 L595.6 1050.7 L599.5 1051.0 L603.4 1051.9 L607.3 1055.1 L611.2 1056.7 L615.1 1057.2 L619.0 1060.2 L622.9 1061.9 L626.8 1061.9 L630.7 1065.9 L634.6 1067.7 L638.5 1069.5 L642.4 1070.1 L646.3 1073.6 L650.2 1075.9 L654.1 1078.1 L658.0 1078.7 L661.9 1082.8 L665.8 1082.7 L669.7 1085.9 L673.6 1089.7 L677.5 1089.5 L681.4 1091.8 L685.3 1095.6 L689.2 1096.1 L693.1 1098.2 L697.0 1100.9 L700.9 1103.9 L704.8 1102.2 L708.7 1105.8 L712.6 1107.6 L716.5 1109.5 L720.4 1111.7 L724.3 1113.7 L728.2 1116.9 L732.1 1117.4 L736.0 1120.4 L739.9 1122.5 L743.8 1123.0 L747.7 1125.7 L751.6 1129.1 L755.5 1129.3 L759.4 1129.9 L763.3 1132.1 L767.2 1132.6 L771.1 1135.4 L775.0 1137.5 L778.9 1137.0 L782.8 1139.0 L786.7 1141.7 L790.6 1141.1 L794.5 1143.0 L798.4 1142.7 L802.3 1144.0 L806.2 1145.2 L810.1 1149.1 L814.0 1147.1 L817.9 1147.7 L821.8 1148.3 L825.7 1149.3 L829.6 1150.8 L833.5 1150.7 L837.4 1153.2 L841.3 1151.5 L845.2 1153.1 L849.1 1152.0 L853.0 1152.5 L856.9 1150.2 L860.8 1151.6 L864.7 1151.6 L868.6 1151.2 L872.5 1148.8 L876.4 1151.8 L880.2 1149.9 L884.1 1149.3 L888.0 1148.9 L891.9 1148.2 L895.8 1148.1 L899.7 1145.3 L903.6 1144.6 L907.5 1144.9 L911.4 1143.5 L915.3 1141.5 L919.2 1139.8 L923.1 1138.0 L927.0 1137.1 L930.9 1136.6 L934.8 1132.1 L938.7 1132.8 L942.6 1129.8 L946.5 1125.8 L950.4 1124.6 L954.3 1119.3 L958.2 1116.1 L962.1 1113.5 L966.0 1111.2 L969.9 1107.9 L973.8 1104.2 L977.7 1101.2 L981.6 1095.0 L985.5 1094.0 L989.4 1088.0 L993.3 1084.8 L997.2 1080.9 L1001.1 1075.9 L1005.0 1071.4 L1008.9 1067.5 L1012.8 1064.3 L1016.7 1060.6 L1020.6 1056.3 L1024.5 1050.3 L1028.4 1046.2 L1032.3 1041.7 L1036.2 1038.7 L1040.1 1031.4 L1044.0 1030.3 L1047.9 1023.4 L1051.8 1018.0 L1055.7 1013.8 L1059.6 1008.8 L1063.5 1001.9 L1067.4 996.3 L1071.3 988.6 L1075.2 983.0 L1079.1 976.2 L1083.0 968.1 L1086.9 963.4 L1090.8 955.9 L1094.7 950.1 L1098.6 943.7 L1102.5 939.6 L1106.4 936.4 L1110.3 930.1 L1114.2 928.8 L1118.1 925.4 L1122.0 922.7 L1125.9 917.7 L1129.8 918.2 L1133.7 917.5 L1137.6 914.9 L1141.5 915.2 L1145.4 912.3 L1149.3 915.9 L1153.2 915.1 L1157.1 917.7 L1161.0 916.0 L1164.9 920.4 L1168.8 921.2 L1172.7 924.3 L1176.6 924.6 L1180.5 927.2 L1184.4 932.7 L1188.3 931.8 L1192.2 934.4 L1196.1 937.4 L1200.0 939.0 L1203.9 943.9 L1207.8 946.8 L1211.7 946.3 L1215.6 947.3 L1219.5 952.5 L1223.4 954.2 L1227.3 955.5 L1231.2 957.3 L1235.1 956.2 L1239.0 957.8 L1242.9 957.0 L1246.8 957.1 L1250.7 959.5 L1254.6 956.9 L1258.5 958.9 L1262.4 954.7 L1266.3 951.7 L1270.1 950.5 L1274.0 948.4 L1277.9 943.4 L1281.8 937.7 L1285.7 935.3 L1289.6 932.2 L1293.5 925.7 L1297.4 921.0 L1301.3 918.6 L1305.2 913.5 L1309.1 908.1 L1313.0 905.2 L1316.9 901.3 L1320.8 899.5 L1324.7 896.6 L1328.6 895.6 L1332.5 893.3 L1336.4 889.4 L1340.3 890.6 L1344.2 890.6 L1348.1 890.0 L1352.0 890.9 L1355.9 889.9 L1359.8 890.8 L1363.7 894.7 L1367.6 894.9 L1371.5 896.6 L1375.4 903.6 L1379.3 905.7 L1383.2 910.7 L1387.1 914.7 L1391.0 920.7 L1394.9 927.5 L1398.8 935.9 L1402.7 945.1 L1406.6 951.4 L1410.5 964.7 L1414.4 973.2 L1418.3 984.1 L1422.2 997.0 L1426.1 1007.4 L1430.0 1017.1 L1433.9 1032.3 L1437.8 1040.7 L1441.7 1053.3 L1445.6 1064.4 L1449.5 1076.7 L1453.4 1085.4 L1457.3 1097.5 L1461.2 1105.7 L1465.1 1117.6 L1469.0 1125.0 L1472.9 1134.5 L1476.8 1145.8 L1480.7 1152.5 L1484.6 1160.4 L1488.5 1170.6 L1492.4 1176.1 L1496.3 1182.0 L1500.2 1190.7 L1504.1 1195.4 L1508.0 1204.4 L1511.9 1210.7 L1515.8 1214.8 L1519.7 1220.5 L1523.6 1227.0 L1527.5 1232.1 L1531.4 1236.2 L1535.3 1242.8 L1539.2 1244.7 L1543.1 1251.0 L1547.0 1255.5 L1550.9 1259.8 L1554.8 1264.5 L1558.7 1266.6 L1562.6 1272.3 L1566.5 1275.0 L1570.4 1277.8 L1574.3 1280.3 L1578.2 1283.5 L1582.1 1288.2 L1586.0 1289.5 L1589.9 1293.3 L1593.8 1296.9 L1597.7 1299.2 L1601.6 1302.0 L1605.5 1302.1 L1609.4 1303.3 L1613.3 1307.5 L1617.2 1308.6 L1621.1 1311.2 L1625.0 1311.6 L1628.9 1314.5 L1632.8 1315.6 L1636.7 1316.9 L1640.6 1318.0 L1644.5 1319.2 L1648.4 1320.2 L1652.3 1321.3 L1656.2 1323.2 L1660.0 1322.6 L1663.9 1326.0 L1667.8 1324.9 L1671.7 1327.0 L1675.6 1326.7 L1679.5 1327.3 L1683.4 1330.5 L1687.3 1328.7 L1691.2 1328.3 L1695.1 1329.6 L1699.0 1330.7 L1702.9 1334.0 L1706.8 1332.4 L1710.7 1333.8 L1714.6 1332.2 L1718.5 1334.1 L1722.4 1334.9 L1726.3 1336.6 L1730.2 1334.2 L1734.1 1336.0 L1738.0 1336.1 L1741.9 1335.0 L1745.8 1336.4 L1749.7 1336.5 L1753.6 1334.6 L1757.5 1338.1 L1761.4 1338.3 L1765.3 1337.5 L1769.2 1336.8 L1773.1 1340.2 L1777.0 1339.1 L1780.9 1340.1 L1784.8 1340.8 L1788.7 1338.9 L1792.6 1340.5 L1796.5 1339.6 L1800.4 1339.9 L1804.3 1340.1 L1808.2 1340.3 L1812.1 1341.7 L1816.0 1340.8 L1819.9 1340.6 L1823.8 1340.6 L1827.7 1341.4 L1831.6 1340.2 L1835.5 1340.7 L1839.4 1341.3 L1843.3 1340.9 L1847.2 1341.5 L1851.1 1341.1 L1855.0 1344.0 L1858.9 1343.4 L1862.8 1342.5 L1866.7 1342.1 L1870.6 1344.7 L1874.5 1342.7 L1878.4 1342.3 L1882.3 1342.9 L1886.2 1343.0 L1890.1 1344.3 L1894.0 1342.8 L1897.9 1345.3 L1901.8 1342.1 L1905.7 1343.9 L1909.6 1342.2 L1913.5 1345.4 L1917.4 1343.1 L1921.3 1343.5 L1925.2 1344.7 L1929.1 1345.1 L1933.0 1342.6 L1936.9 1343.6 L1940.8 1342.5 L1944.7 1344.3 L1948.6 1344.1 L1952.5 1343.9 L1956.4 1343.6 L1960.3 1344.1 L1964.2 1343.8 L1968.1 1345.3 L1972.0 1346.4 L1975.9 1342.8 L1979.8 1344.8 L1983.7 1344.6 L1987.6 1345.7 L1991.5 1344.2 L1995.4 1345.2 L1999.3 1344.3 L2003.2 1346.4 L2007.1 1345.8 L2011.0 1345.6 L2014.9 1346.3 L2018.8 1345.8 L2022.7 1344.4 L2026.6 1346.9 L2030.5 1346.7 L2034.4 1346.3 L2038.3 1347.7 L2042.2 1348.1 L2046.1 1345.7 L2049.9 1346.1 L2053.8 1348.8 L2057.7 1348.8 L2061.6 1346.5 L2065.5 1346.2 L2069.4 1346.9 L2073.3 1347.1 L2077.2 1346.1 L2081.1 1348.0 L2085.0 1346.6 L2088.9 1346.8 L2092.8 1349.3 L2096.7 1347.7 L2100.6 1348.4 L2104.5 1349.3 L2108.4 1349.6 L2112.3 1348.5 L2116.2 1349.0 L2120.1 1348.2 L2124.0 1351.1 L2127.9 1350.0 L2131.8 1348.2 L2135.7 1349.5 L2139.6 1350.4 L2143.5 1350.3 L2147.4 1351.9 L2151.3 1351.5 L2155.2 1349.5 L2159.1 1350.1 L2163.0 1348.9 L2166.9 1350.7 L2170.8 1350.7 L2174.7 1353.6 L2178.6 1350.9 L2182.5 1348.6 L2186.4 1350.2 L2190.3 1351.2 L2194.2 1349.8 L2198.1 1350.4 L2202.0 1351.0 L2205.9 1351.9 L2209.8 1351.5 L2213.7 1350.8 L2217.6 1352.7 L2221.5 1351.4 L2225.4 1351.5 L2229.3 1350.7 L2233.2 1351.4 L2237.1 1353.1 L2241.0 1350.7 L2249.0 1352.6" stroke="#88A64A"/><path d="M283.5 747.0 L291.5 754.4 L295.4 759.3 L299.3 765.1 L303.2 774.9 L307.1 781.6 L311.0 787.4 L314.9 791.8 L318.8 799.0 L322.7 807.5 L326.6 814.5 L330.5 819.0 L334.4 825.9 L338.3 829.7 L342.2 835.8 L346.1 841.5 L350.0 847.4 L353.9 850.6 L357.8 858.6 L361.7 864.1 L365.6 866.4 L369.5 871.2 L373.4 877.9 L377.3 881.6 L381.2 884.4 L385.1 892.5 L389.0 896.3 L392.9 900.0 L396.8 907.3 L400.7 909.4 L404.6 912.7 L408.5 917.8 L412.4 920.6 L416.3 924.9 L420.2 930.2 L424.1 933.0 L428.0 937.0 L431.9 943.1 L435.8 945.9 L439.7 949.6 L443.6 952.9 L447.5 956.4 L451.4 960.9 L455.3 962.8 L459.2 968.2 L463.1 968.5 L467.0 972.5 L470.9 974.5 L474.8 978.8 L478.7 982.9 L482.6 987.0 L486.5 987.8 L490.3 991.5 L494.2 994.1 L498.1 996.5 L502.0 998.9 L505.9 1003.1 L509.8 1003.9 L513.7 1008.7 L517.6 1011.3 L521.5 1013.2 L525.4 1015.4 L529.3 1017.5 L533.2 1023.7 L537.1 1022.6 L541.0 1028.2 L544.9 1029.6 L548.8 1030.9 L552.7 1032.4 L556.6 1037.1 L560.5 1040.1 L564.4 1039.4 L568.3 1042.3 L572.2 1045.9 L576.1 1047.3 L580.0 1051.2 L583.9 1050.4 L587.8 1053.7 L591.7 1053.8 L595.6 1059.5 L599.5 1058.4 L603.4 1058.7 L607.3 1063.0 L611.2 1064.9 L615.1 1069.1 L619.0 1068.5 L622.9 1070.8 L626.8 1073.4 L630.7 1076.4 L634.6 1076.5 L638.5 1079.6 L642.4 1081.0 L646.3 1082.0 L650.2 1084.3 L654.1 1086.2 L658.0 1087.1 L661.9 1091.4 L665.8 1090.5 L669.7 1095.3 L673.6 1097.0 L677.5 1097.8 L681.4 1099.1 L685.3 1101.8 L689.2 1104.6 L693.1 1107.0 L697.0 1108.6 L700.9 1111.4 L704.8 1111.9 L708.7 1114.9 L712.6 1115.0 L716.5 1119.7 L720.4 1121.2 L724.3 1122.7 L728.2 1126.6 L732.1 1128.2 L736.0 1126.4 L739.9 1131.6 L743.8 1132.0 L747.7 1136.8 L751.6 1140.3 L755.5 1139.0 L759.4 1141.6 L763.3 1143.1 L767.2 1145.6 L771.1 1147.7 L775.0 1150.1 L778.9 1149.3 L782.8 1153.8 L786.7 1152.6 L790.6 1155.5 L794.5 1157.9 L798.4 1158.8 L802.3 1158.3 L806.2 1159.9 L810.1 1161.3 L814.0 1162.9 L817.9 1165.3 L821.8 1163.6 L825.7 1166.5 L829.6 1167.6 L833.5 1168.3 L837.4 1168.9 L841.3 1170.8 L845.2 1170.3 L849.1 1171.2 L853.0 1171.4 L856.9 1173.2 L860.8 1169.4 L864.7 1173.2 L868.6 1171.7 L872.5 1171.9 L876.4 1171.2 L880.2 1170.2 L884.1 1171.8 L888.0 1171.3 L891.9 1172.4 L895.8 1169.9 L899.7 1172.8 L903.6 1171.0 L907.5 1169.9 L911.4 1168.8 L915.3 1168.0 L919.2 1166.8 L923.1 1166.6 L927.0 1166.2 L930.9 1164.9 L934.8 1162.4 L938.7 1162.3 L942.6 1160.2 L946.5 1159.8 L950.4 1160.0 L954.3 1156.9 L958.2 1154.0 L962.1 1150.5 L966.0 1148.6 L969.9 1146.1 L973.8 1146.4 L977.7 1142.3 L981.6 1140.6 L985.5 1137.1 L989.4 1135.1 L993.3 1133.6 L997.2 1128.3 L1001.1 1125.5 L1005.0 1121.8 L1008.9 1120.2 L1012.8 1114.7 L1016.7 1111.0 L1020.6 1107.1 L1024.5 1103.3 L1028.4 1101.6 L1032.3 1099.9 L1036.2 1092.0 L1040.1 1090.1 L1044.0 1085.2 L1047.9 1079.5 L1051.8 1076.1 L1055.7 1071.9 L1059.6 1067.0 L1063.5 1065.5 L1067.4 1056.9 L1071.3 1055.0 L1075.2 1050.6 L1079.1 1045.3 L1083.0 1041.8 L1086.9 1038.3 L1090.8 1033.4 L1094.7 1029.6 L1098.6 1025.9 L1102.5 1018.9 L1106.4 1019.0 L1110.3 1016.3 L1114.2 1011.4 L1118.1 1008.3 L1122.0 1002.9 L1125.9 1001.9 L1129.8 999.0 L1133.7 997.7 L1137.6 998.1 L1141.5 995.3 L1145.4 995.5 L1149.3 993.4 L1153.2 995.4 L1157.1 996.1 L1161.0 996.0 L1164.9 997.0 L1168.8 1001.2 L1172.7 999.4 L1176.6 1001.4 L1180.5 1003.7 L1184.4 1007.9 L1188.3 1011.0 L1192.2 1011.1 L1196.1 1011.8 L1200.0 1013.9 L1203.9 1017.2 L1207.8 1016.5 L1211.7 1020.4 L1215.6 1021.6 L1219.5 1021.1 L1223.4 1022.6 L1227.3 1023.4 L1231.2 1024.8 L1235.1 1022.3 L1239.0 1024.9 L1242.9 1023.0 L1246.8 1022.3 L1250.7 1022.6 L1254.6 1021.3 L1258.5 1019.3 L1262.4 1017.0 L1266.3 1015.7 L1270.1 1015.9 L1274.0 1013.6 L1277.9 1008.8 L1281.8 1005.7 L1285.7 999.9 L1289.6 996.3 L1293.5 992.5 L1297.4 987.0 L1301.3 983.1 L1305.2 980.6 L1309.1 976.6 L1313.0 972.6 L1316.9 971.4 L1320.8 968.1 L1324.7 967.2 L1328.6 964.1 L1332.5 962.2 L1336.4 961.5 L1340.3 960.4 L1344.2 959.5 L1348.1 959.8 L1352.0 961.6 L1355.9 962.3 L1359.8 964.3 L1363.7 962.6 L1367.6 966.1 L1371.5 968.5 L1375.4 971.9 L1379.3 974.4 L1383.2 977.9 L1387.1 983.2 L1391.0 986.9 L1394.9 990.2 L1398.8 998.1 L1402.7 1003.5 L1406.6 1008.0 L1410.5 1016.4 L1414.4 1022.2 L1418.3 1032.5 L1422.2 1039.9 L1426.1 1048.9 L1430.0 1059.6 L1433.9 1069.9 L1437.8 1082.0 L1441.7 1092.9 L1445.6 1103.5 L1449.5 1113.0 L1453.4 1119.4 L1457.3 1132.8 L1461.2 1139.6 L1465.1 1150.5 L1469.0 1159.6 L1472.9 1166.6 L1476.8 1173.4 L1480.7 1181.0 L1484.6 1188.1 L1488.5 1194.5 L1492.4 1201.0 L1496.3 1207.0 L1500.2 1215.4 L1504.1 1220.0 L1508.0 1226.8 L1511.9 1230.9 L1515.8 1236.5 L1519.7 1241.2 L1523.6 1246.7 L1527.5 1251.7 L1531.4 1255.5 L1535.3 1258.7 L1539.2 1262.6 L1543.1 1269.2 L1547.0 1270.7 L1550.9 1274.2 L1554.8 1279.4 L1558.7 1282.1 L1562.6 1284.5 L1566.5 1286.3 L1570.4 1292.0 L1574.3 1292.4 L1578.2 1295.0 L1582.1 1296.5 L1586.0 1297.3 L1589.9 1299.4 L1593.8 1303.3 L1597.7 1305.2 L1601.6 1306.3 L1605.5 1307.0 L1609.4 1308.3 L1613.3 1311.1 L1617.2 1311.3 L1621.1 1315.3 L1625.0 1317.0 L1628.9 1320.1 L1632.8 1319.2 L1636.7 1318.8 L1640.6 1319.6 L1644.5 1317.9 L1648.4 1322.1 L1652.3 1323.5 L1656.2 1325.7 L1660.0 1326.2 L1663.9 1327.1 L1667.8 1327.5 L1671.7 1328.8 L1675.6 1330.4 L1679.5 1328.4 L1683.4 1329.7 L1687.3 1329.3 L1691.2 1333.2 L1695.1 1333.4 L1699.0 1333.4 L1702.9 1331.7 L1706.8 1333.7 L1710.7 1333.7 L1714.6 1334.4 L1718.5 1334.5 L1722.4 1335.7 L1726.3 1335.1 L1730.2 1336.9 L1734.1 1336.6 L1738.0 1336.4 L1741.9 1336.9 L1745.8 1336.9 L1749.7 1338.6 L1753.6 1337.7 L1757.5 1338.6 L1761.4 1338.1 L1765.3 1337.1 L1769.2 1339.9 L1773.1 1338.0 L1777.0 1340.1 L1780.9 1340.0 L1784.8 1337.9 L1788.7 1338.8 L1792.6 1339.5 L1796.5 1339.4 L1800.4 1339.2 L1804.3 1341.5 L1808.2 1340.6 L1812.1 1341.5 L1816.0 1340.7 L1819.9 1341.7 L1823.8 1340.8 L1827.7 1341.8 L1831.6 1342.6 L1835.5 1342.3 L1839.4 1341.9 L1843.3 1341.4 L1847.2 1343.0 L1851.1 1343.4 L1855.0 1342.9 L1858.9 1342.5 L1862.8 1344.0 L1866.7 1346.3 L1870.6 1343.4 L1874.5 1344.2 L1878.4 1344.3 L1882.3 1341.2 L1886.2 1344.2 L1890.1 1343.4 L1894.0 1345.8 L1897.9 1344.1 L1901.8 1343.6 L1905.7 1344.3 L1909.6 1344.8 L1913.5 1344.1 L1917.4 1344.7 L1921.3 1343.4 L1925.2 1344.7 L1929.1 1345.9 L1933.0 1347.3 L1936.9 1346.0 L1940.8 1345.6 L1944.7 1346.7 L1948.6 1346.6 L1952.5 1347.4 L1956.4 1346.8 L1960.3 1345.6 L1964.2 1346.1 L1968.1 1346.1 L1972.0 1346.4 L1975.9 1346.3 L1979.8 1345.4 L1983.7 1344.0 L1987.6 1345.7 L1991.5 1344.3 L1995.4 1346.7 L1999.3 1346.7 L2003.2 1344.9 L2007.1 1347.6 L2011.0 1347.9 L2014.9 1347.2 L2018.8 1349.0 L2022.7 1349.3 L2026.6 1346.1 L2030.5 1348.6 L2034.4 1348.1 L2038.3 1348.1 L2042.2 1348.8 L2046.1 1347.1 L2049.9 1347.3 L2053.8 1347.2 L2057.7 1347.4 L2061.6 1348.2 L2065.5 1346.8 L2069.4 1347.4 L2073.3 1349.3 L2077.2 1348.7 L2081.1 1349.3 L2085.0 1346.9 L2088.9 1348.2 L2092.8 1348.6 L2096.7 1349.3 L2100.6 1348.8 L2104.5 1350.6 L2108.4 1349.6 L2112.3 1349.8 L2116.2 1349.9 L2120.1 1350.8 L2124.0 1349.6 L2127.9 1351.5 L2131.8 1350.9 L2135.7 1350.7 L2139.6 1350.7 L2143.5 1351.3 L2147.4 1352.0 L2151.3 1352.1 L2155.2 1351.6 L2159.1 1352.3 L2163.0 1351.6 L2166.9 1353.0 L2170.8 1351.8 L2174.7 1349.7 L2178.6 1353.6 L2182.5 1352.4 L2186.4 1351.1 L2190.3 1352.4 L2194.2 1351.8 L2198.1 1355.3 L2202.0 1353.7 L2205.9 1351.6 L2209.8 1354.1 L2213.7 1353.2 L2217.6 1356.0 L2221.5 1352.9 L2225.4 1351.8 L2229.3 1354.5 L2233.2 1354.2 L2237.1 1354.3 L2241.0 1352.6 L2249.0 1355.9" stroke="#6E5590"/><path d="M283.5 770.6 L291.5 776.9 L295.4 786.7 L299.3 789.9 L303.2 799.7 L307.1 802.9 L311.0 808.0 L314.9 815.9 L318.8 821.2 L322.7 825.8 L326.6 833.9 L330.5 838.4 L334.4 842.8 L338.3 854.4 L342.2 857.2 L346.1 863.0 L350.0 870.4 L353.9 873.7 L357.8 879.9 L361.7 886.9 L365.6 892.5 L369.5 898.9 L373.4 905.7 L377.3 908.8 L381.2 915.2 L385.1 920.4 L389.0 922.8 L392.9 929.3 L396.8 932.2 L400.7 939.4 L404.6 942.8 L408.5 946.2 L412.4 948.2 L416.3 954.0 L420.2 956.5 L424.1 962.0 L428.0 964.3 L431.9 966.6 L435.8 972.3 L439.7 975.1 L443.6 976.3 L447.5 981.7 L451.4 982.6 L455.3 985.4 L459.2 988.8 L463.1 990.3 L467.0 993.4 L470.9 996.4 L474.8 1001.3 L478.7 1003.8 L482.6 1003.9 L486.5 1009.0 L490.3 1009.1 L494.2 1012.1 L498.1 1015.2 L502.0 1016.7 L505.9 1022.1 L509.8 1021.4 L513.7 1021.7 L517.6 1027.5 L521.5 1027.4 L525.4 1029.9 L529.3 1028.4 L533.2 1036.3 L537.1 1038.3 L541.0 1040.5 L544.9 1043.1 L548.8 1046.3 L552.7 1046.1 L556.6 1049.8 L560.5 1049.6 L564.4 1052.4 L568.3 1056.6 L572.2 1057.9 L576.1 1057.7 L580.0 1062.3 L583.9 1063.7 L587.8 1065.1 L591.7 1069.0 L595.6 1070.0 L599.5 1070.6 L603.4 1073.4 L607.3 1079.6 L611.2 1077.2 L615.1 1081.8 L619.0 1084.6 L622.9 1086.8 L626.8 1086.4 L630.7 1089.8 L634.6 1092.6 L638.5 1095.7 L642.4 1095.9 L646.3 1097.3 L650.2 1102.5 L654.1 1104.8 L658.0 1106.0 L661.9 1106.8 L665.8 1110.4 L669.7 1112.2 L673.6 1115.4 L677.5 1114.6 L681.4 1118.7 L685.3 1120.5 L689.2 1121.4 L693.1 1125.4 L697.0 1127.4 L700.9 1129.0 L704.8 1132.3 L708.7 1132.0 L712.6 1136.1 L716.5 1139.0 L720.4 1141.0 L724.3 1144.4 L728.2 1143.4 L732.1 1145.2 L736.0 1149.9 L739.9 1152.5 L743.8 1157.0 L747.7 1157.2 L751.6 1157.4 L755.5 1162.0 L759.4 1161.9 L763.3 1163.3 L767.2 1171.2 L771.1 1170.3 L775.0 1173.0 L778.9 1175.0 L782.8 1178.9 L786.7 1178.9 L790.6 1182.4 L794.5 1181.3 L798.4 1182.9 L802.3 1188.9 L806.2 1191.0 L810.1 1191.6 L814.0 1193.1 L817.9 1195.0 L821.8 1195.6 L825.7 1200.6 L829.6 1201.1 L833.5 1202.7 L837.4 1204.2 L841.3 1206.8 L845.2 1207.6 L849.1 1209.5 L853.0 1208.3 L856.9 1212.1 L860.8 1215.9 L864.7 1213.4 L868.6 1215.3 L872.5 1217.9 L876.4 1219.2 L880.2 1219.9 L884.1 1217.8 L888.0 1221.8 L891.9 1220.3 L895.8 1221.7 L899.7 1224.5 L903.6 1224.1 L907.5 1226.3 L911.4 1230.3 L915.3 1227.5 L919.2 1228.0 L923.1 1226.2 L927.0 1227.0 L930.9 1226.8 L934.8 1227.9 L938.7 1227.4 L942.6 1228.2 L946.5 1229.0 L950.4 1228.0 L954.3 1227.5 L958.2 1227.6 L962.1 1230.1 L966.0 1229.5 L969.9 1230.7 L973.8 1230.5 L977.7 1228.3 L981.6 1229.4 L985.5 1226.0 L989.4 1230.8 L993.3 1228.8 L997.2 1226.3 L1001.1 1224.3 L1005.0 1225.8 L1008.9 1221.9 L1012.8 1222.7 L1016.7 1224.0 L1020.6 1222.1 L1024.5 1220.3 L1028.4 1221.3 L1032.3 1217.4 L1036.2 1218.1 L1040.1 1215.8 L1044.0 1214.1 L1047.9 1214.5 L1051.8 1211.1 L1055.7 1213.7 L1059.6 1208.7 L1063.5 1210.7 L1067.4 1204.7 L1071.3 1205.4 L1075.2 1201.1 L1079.1 1199.0 L1083.0 1199.2 L1086.9 1198.0 L1090.8 1193.4 L1094.7 1194.9 L1098.6 1190.2 L1102.5 1189.6 L1106.4 1188.2 L1110.3 1186.7 L1114.2 1181.7 L1118.1 1184.9 L1122.0 1182.0 L1125.9 1179.3 L1129.8 1177.2 L1133.7 1175.2 L1137.6 1174.8 L1141.5 1176.8 L1145.4 1175.0 L1149.3 1173.5 L1153.2 1174.1 L1157.1 1177.0 L1161.0 1174.4 L1164.9 1174.1 L1168.8 1177.1 L1172.7 1176.1 L1176.6 1175.9 L1180.5 1175.4 L1184.4 1174.5 L1188.3 1175.5 L1192.2 1177.0 L1196.1 1177.8 L1200.0 1179.1 L1203.9 1179.8 L1207.8 1179.7 L1211.7 1180.0 L1215.6 1178.6 L1219.5 1177.2 L1223.4 1179.5 L1227.3 1178.9 L1231.2 1179.2 L1235.1 1179.4 L1239.0 1177.6 L1242.9 1177.2 L1246.8 1177.9 L1250.7 1177.4 L1254.6 1175.4 L1258.5 1175.9 L1262.4 1173.8 L1266.3 1171.4 L1270.1 1171.5 L1274.0 1172.6 L1277.9 1167.5 L1281.8 1168.5 L1285.7 1167.2 L1289.6 1165.6 L1293.5 1160.6 L1297.4 1162.8 L1301.3 1158.4 L1305.2 1156.0 L1309.1 1154.2 L1313.0 1153.6 L1316.9 1151.0 L1320.8 1149.0 L1324.7 1149.4 L1328.6 1145.0 L1332.5 1143.0 L1336.4 1144.2 L1340.3 1142.8 L1344.2 1142.2 L1348.1 1138.1 L1352.0 1140.3 L1355.9 1138.9 L1359.8 1140.2 L1363.7 1135.9 L1367.6 1138.0 L1371.5 1137.7 L1375.4 1136.6 L1379.3 1138.8 L1383.2 1142.6 L1387.1 1142.0 L1391.0 1143.5 L1394.9 1147.9 L1398.8 1150.5 L1402.7 1153.2 L1406.6 1153.7 L1410.5 1158.0 L1414.4 1163.0 L1418.3 1164.4 L1422.2 1168.3 L1426.1 1174.8 L1430.0 1180.3 L1433.9 1181.2 L1437.8 1184.0 L1441.7 1190.6 L1445.6 1196.4 L1449.5 1202.9 L1453.4 1209.4 L1457.3 1213.8 L1461.2 1218.5 L1465.1 1225.3 L1469.0 1229.3 L1472.9 1236.0 L1476.8 1240.6 L1480.7 1250.6 L1484.6 1253.1 L1488.5 1255.8 L1492.4 1260.4 L1496.3 1265.8 L1500.2 1268.5 L1504.1 1274.0 L1508.0 1278.0 L1511.9 1284.0 L1515.8 1285.6 L1519.7 1288.4 L1523.6 1290.7 L1527.5 1293.8 L1531.4 1298.0 L1535.3 1300.2 L1539.2 1304.3 L1543.1 1304.0 L1547.0 1308.3 L1550.9 1309.0 L1554.8 1310.4 L1558.7 1309.2 L1562.6 1311.8 L1566.5 1316.1 L1570.4 1318.4 L1574.3 1318.1 L1578.2 1320.1 L1582.1 1319.7 L1586.0 1320.9 L1589.9 1321.6 L1593.8 1325.0 L1597.7 1325.2 L1601.6 1325.4 L1605.5 1326.3 L1609.4 1328.6 L1613.3 1329.2 L1617.2 1328.6 L1621.1 1333.1 L1625.0 1331.9 L1628.9 1332.5 L1632.8 1335.4 L1636.7 1335.7 L1640.6 1334.9 L1644.5 1336.6 L1648.4 1335.2 L1652.3 1336.6 L1656.2 1335.1 L1660.0 1340.7 L1663.9 1337.0 L1667.8 1341.3 L1671.7 1339.8 L1675.6 1340.1 L1679.5 1341.8 L1683.4 1343.0 L1687.3 1343.9 L1691.2 1346.1 L1695.1 1344.5 L1699.0 1345.7 L1702.9 1344.1 L1706.8 1346.4 L1710.7 1346.0 L1714.6 1345.6 L1718.5 1346.5 L1722.4 1347.0 L1726.3 1347.7 L1730.2 1348.4 L1734.1 1347.6 L1738.0 1347.6 L1741.9 1350.1 L1745.8 1347.0 L1749.7 1348.9 L1753.6 1352.3 L1757.5 1346.8 L1761.4 1350.0 L1765.3 1352.3 L1769.2 1349.4 L1773.1 1355.8 L1777.0 1348.9 L1780.9 1354.9 L1784.8 1355.4 L1788.7 1354.8 L1792.6 1353.6 L1796.5 1354.7 L1800.4 1353.2 L1804.3 1355.9 L1808.2 1353.5 L1812.1 1355.0 L1816.0 1357.1 L1819.9 1354.4 L1823.8 1355.8 L1827.7 1356.8 L1831.6 1355.0 L1835.5 1358.8 L1839.4 1357.9 L1843.3 1355.5 L1847.2 1357.8 L1851.1 1357.0 L1855.0 1357.3 L1858.9 1358.5 L1862.8 1357.5 L1866.7 1359.9 L1870.6 1357.7 L1874.5 1360.2 L1878.4 1358.8 L1882.3 1360.2 L1886.2 1358.3 L1890.1 1358.4 L1894.0 1357.6 L1897.9 1360.1 L1901.8 1360.7 L1905.7 1362.4 L1909.6 1361.3 L1913.5 1359.9 L1917.4 1359.4 L1921.3 1360.3 L1925.2 1359.7 L1929.1 1361.9 L1933.0 1361.2 L1936.9 1358.8 L1940.8 1359.0 L1944.7 1362.0 L1948.6 1360.5 L1952.5 1359.8 L1956.4 1361.8 L1960.3 1359.7 L1964.2 1359.9 L1968.1 1359.7 L1972.0 1357.6 L1975.9 1361.6 L1979.8 1358.7 L1983.7 1359.6 L1987.6 1359.4 L1991.5 1361.5 L1995.4 1360.4 L1999.3 1360.5 L2003.2 1358.2 L2007.1 1360.4 L2011.0 1358.5 L2014.9 1361.0 L2018.8 1361.1 L2022.7 1360.6 L2026.6 1363.5 L2030.5 1361.4 L2034.4 1361.5 L2038.3 1360.8 L2042.2 1360.4 L2046.1 1362.0 L2049.9 1362.2 L2053.8 1358.9 L2057.7 1362.2 L2061.6 1361.4 L2065.5 1362.1 L2069.4 1361.4 L2073.3 1359.0 L2077.2 1359.1 L2081.1 1363.3 L2085.0 1361.1 L2088.9 1358.8 L2092.8 1361.3 L2096.7 1360.3 L2100.6 1358.2 L2104.5 1357.6 L2108.4 1358.6 L2112.3 1361.2 L2116.2 1360.8 L2120.1 1360.5 L2124.0 1361.3 L2127.9 1361.7 L2131.8 1357.9 L2135.7 1360.5 L2139.6 1359.7 L2143.5 1359.2 L2147.4 1360.2 L2151.3 1360.8 L2155.2 1360.6 L2159.1 1358.9 L2163.0 1360.3 L2166.9 1363.8 L2170.8 1359.5 L2174.7 1358.6 L2178.6 1361.3 L2182.5 1361.8 L2186.4 1361.6 L2190.3 1359.4 L2194.2 1362.4 L2198.1 1359.9 L2202.0 1359.4 L2205.9 1360.1 L2209.8 1360.8 L2213.7 1362.0 L2217.6 1361.9 L2221.5 1361.0 L2225.4 1362.3 L2229.3 1361.1 L2233.2 1362.3 L2237.1 1359.0 L2241.0 1358.8 L2249.0 1362.1" stroke="#3E98B0"/><path d="M283.5 766.7 L291.5 780.8 L295.4 787.1 L299.3 794.7 L303.2 802.6 L307.1 813.3 L311.0 813.9 L314.9 826.7 L318.8 835.9 L322.7 838.5 L326.6 844.7 L330.5 852.1 L334.4 859.9 L338.3 860.5 L342.2 868.3 L346.1 873.2 L350.0 879.8 L353.9 884.2 L357.8 890.1 L361.7 893.2 L365.6 898.8 L369.5 902.2 L373.4 906.8 L377.3 912.2 L381.2 916.6 L385.1 919.1 L389.0 928.0 L392.9 929.2 L396.8 931.2 L400.7 939.4 L404.6 940.2 L408.5 946.1 L412.4 949.0 L416.3 953.2 L420.2 956.7 L424.1 959.1 L428.0 963.7 L431.9 970.5 L435.8 966.7 L439.7 974.0 L443.6 978.0 L447.5 978.8 L451.4 981.5 L455.3 990.7 L459.2 989.6 L463.1 996.9 L467.0 997.3 L470.9 999.6 L474.8 1003.3 L478.7 1006.6 L482.6 1010.5 L486.5 1012.1 L490.3 1014.5 L494.2 1017.4 L498.1 1022.3 L502.0 1024.2 L505.9 1023.9 L509.8 1027.2 L513.7 1031.6 L517.6 1032.7 L521.5 1035.8 L525.4 1037.5 L529.3 1041.3 L533.2 1045.1 L537.1 1048.6 L541.0 1049.6 L544.9 1055.6 L548.8 1054.5 L552.7 1062.6 L556.6 1061.4 L560.5 1063.0 L564.4 1063.8 L568.3 1062.3 L572.2 1069.3 L576.1 1072.3 L580.0 1077.7 L583.9 1074.5 L587.8 1082.5 L591.7 1081.3 L595.6 1085.3 L599.5 1082.1 L603.4 1089.1 L607.3 1090.6 L611.2 1094.7 L615.1 1096.0 L619.0 1096.3 L622.9 1102.2 L626.8 1104.1 L630.7 1106.2 L634.6 1109.2 L638.5 1111.7 L642.4 1112.1 L646.3 1112.1 L650.2 1114.4 L654.1 1121.4 L658.0 1122.6 L661.9 1123.8 L665.8 1125.2 L669.7 1128.3 L673.6 1130.6 L677.5 1132.3 L681.4 1134.0 L685.3 1141.1 L689.2 1140.1 L693.1 1141.0 L697.0 1142.1 L700.9 1145.4 L704.8 1150.2 L708.7 1152.6 L712.6 1153.2 L716.5 1156.0 L720.4 1157.7 L724.3 1158.6 L728.2 1165.0 L732.1 1165.7 L736.0 1171.5 L739.9 1168.3 L743.8 1171.6 L747.7 1175.6 L751.6 1175.9 L755.5 1176.2 L759.4 1179.1 L763.3 1183.1 L767.2 1185.7 L771.1 1187.1 L775.0 1191.1 L778.9 1193.2 L782.8 1194.2 L786.7 1195.8 L790.6 1197.4 L794.5 1200.8 L798.4 1203.5 L802.3 1204.1 L806.2 1206.7 L810.1 1207.4 L814.0 1207.5 L817.9 1210.1 L821.8 1215.0 L825.7 1216.3 L829.6 1220.1 L833.5 1219.3 L837.4 1222.5 L841.3 1225.0 L845.2 1226.2 L849.1 1225.2 L853.0 1227.6 L856.9 1229.8 L860.8 1229.5 L864.7 1233.5 L868.6 1236.0 L872.5 1235.0 L876.4 1240.6 L880.2 1238.3 L884.1 1239.8 L888.0 1241.1 L891.9 1241.7 L895.8 1244.9 L899.7 1245.5 L903.6 1249.5 L907.5 1248.9 L911.4 1250.0 L915.3 1249.8 L919.2 1248.9 L923.1 1252.2 L927.0 1251.9 L930.9 1255.9 L934.8 1255.2 L938.7 1259.0 L942.6 1258.3 L946.5 1259.2 L950.4 1259.0 L954.3 1259.7 L958.2 1261.1 L962.1 1262.2 L966.0 1260.1 L969.9 1262.7 L973.8 1266.8 L977.7 1262.7 L981.6 1262.9 L985.5 1262.5 L989.4 1261.6 L993.3 1266.5 L997.2 1264.9 L1001.1 1265.5 L1005.0 1268.4 L1008.9 1269.8 L1012.8 1264.2 L1016.7 1267.7 L1020.6 1267.1 L1024.5 1266.8 L1028.4 1267.1 L1032.3 1266.3 L1036.2 1269.1 L1040.1 1267.5 L1044.0 1267.1 L1047.9 1268.6 L1051.8 1268.0 L1055.7 1267.2 L1059.6 1267.0 L1063.5 1269.4 L1067.4 1267.2 L1071.3 1266.1 L1075.2 1264.7 L1079.1 1265.5 L1083.0 1264.2 L1086.9 1266.0 L1090.8 1266.2 L1094.7 1262.1 L1098.6 1265.5 L1102.5 1266.5 L1106.4 1265.5 L1110.3 1263.5 L1114.2 1267.1 L1118.1 1263.6 L1122.0 1262.6 L1125.9 1262.7 L1129.8 1264.4 L1133.7 1266.0 L1137.6 1266.2 L1141.5 1264.4 L1145.4 1261.9 L1149.3 1262.7 L1153.2 1262.2 L1157.1 1263.4 L1161.0 1260.6 L1164.9 1263.8 L1168.8 1264.6 L1172.7 1263.3 L1176.6 1264.3 L1180.5 1261.9 L1184.4 1261.1 L1188.3 1262.5 L1192.2 1265.6 L1196.1 1265.4 L1200.0 1262.9 L1203.9 1265.8 L1207.8 1263.2 L1211.7 1266.3 L1215.6 1264.6 L1219.5 1262.9 L1223.4 1265.0 L1227.3 1262.2 L1231.2 1261.8 L1235.1 1260.8 L1239.0 1263.5 L1242.9 1262.7 L1246.8 1262.3 L1250.7 1261.3 L1254.6 1264.0 L1258.5 1260.4 L1262.4 1259.3 L1266.3 1262.0 L1270.1 1261.5 L1274.0 1258.9 L1277.9 1254.5 L1281.8 1255.6 L1285.7 1256.7 L1289.6 1254.7 L1293.5 1256.4 L1297.4 1250.4 L1301.3 1252.8 L1305.2 1249.6 L1309.1 1251.9 L1313.0 1248.5 L1316.9 1249.3 L1320.8 1245.5 L1324.7 1243.2 L1328.6 1242.8 L1332.5 1242.8 L1336.4 1241.2 L1340.3 1244.2 L1344.2 1243.7 L1348.1 1241.2 L1352.0 1238.4 L1355.9 1239.4 L1359.8 1238.1 L1363.7 1241.4 L1367.6 1239.2 L1371.5 1239.4 L1375.4 1237.8 L1379.3 1235.2 L1383.2 1237.6 L1387.1 1237.5 L1391.0 1240.6 L1394.9 1240.9 L1398.8 1240.3 L1402.7 1242.2 L1406.6 1246.9 L1410.5 1244.2 L1414.4 1246.1 L1418.3 1249.3 L1422.2 1250.7 L1426.1 1253.5 L1430.0 1257.6 L1433.9 1262.3 L1437.8 1259.0 L1441.7 1264.9 L1445.6 1267.9 L1449.5 1270.7 L1453.4 1273.6 L1457.3 1276.3 L1461.2 1281.7 L1465.1 1282.2 L1469.0 1285.7 L1472.9 1288.8 L1476.8 1291.8 L1480.7 1294.1 L1484.6 1298.6 L1488.5 1299.4 L1492.4 1302.1 L1496.3 1304.0 L1500.2 1304.5 L1504.1 1306.9 L1508.0 1308.6 L1511.9 1312.6 L1515.8 1312.9 L1519.7 1314.1 L1523.6 1318.0 L1527.5 1320.1 L1531.4 1317.8 L1535.3 1325.1 L1539.2 1323.7 L1543.1 1324.9 L1547.0 1328.2 L1550.9 1327.8 L1554.8 1327.9 L1558.7 1333.8 L1562.6 1329.4 L1566.5 1332.1 L1570.4 1334.8 L1574.3 1332.5 L1578.2 1335.2 L1582.1 1336.9 L1586.0 1341.3 L1589.9 1336.5 L1593.8 1338.8 L1597.7 1340.8 L1601.6 1340.6 L1605.5 1339.2 L1609.4 1342.7 L1613.3 1342.9 L1617.2 1344.2 L1621.1 1346.1 L1625.0 1346.5 L1628.9 1346.1 L1632.8 1346.6 L1636.7 1344.8 L1640.6 1347.1 L1644.5 1348.3 L1648.4 1347.8 L1652.3 1349.2 L1656.2 1348.1 L1660.0 1352.6 L1663.9 1354.1 L1667.8 1350.2 L1671.7 1351.9 L1675.6 1351.2 L1679.5 1354.1 L1683.4 1352.9 L1687.3 1352.6 L1691.2 1352.3 L1695.1 1353.1 L1699.0 1351.4 L1702.9 1354.5 L1706.8 1352.3 L1710.7 1354.7 L1714.6 1354.2 L1718.5 1356.1 L1722.4 1354.4 L1726.3 1356.4 L1730.2 1353.3 L1734.1 1356.1 L1738.0 1354.9 L1741.9 1355.9 L1745.8 1355.8 L1749.7 1357.5 L1753.6 1352.7 L1757.5 1356.9 L1761.4 1354.0 L1765.3 1358.8 L1769.2 1353.6 L1773.1 1355.4 L1777.0 1354.4 L1780.9 1360.2 L1784.8 1355.4 L1788.7 1358.0 L1792.6 1357.0 L1796.5 1355.0 L1800.4 1357.7 L1804.3 1359.5 L1808.2 1358.2 L1812.1 1360.3 L1816.0 1358.3 L1819.9 1359.1 L1823.8 1358.6 L1827.7 1360.0 L1831.6 1362.8 L1835.5 1360.3 L1839.4 1360.2 L1843.3 1358.9 L1847.2 1358.8 L1851.1 1362.7 L1855.0 1358.5 L1858.9 1358.9 L1862.8 1360.3 L1866.7 1359.8 L1870.6 1363.9 L1874.5 1356.6 L1878.4 1361.3 L1882.3 1362.0 L1886.2 1358.9 L1890.1 1359.7 L1894.0 1361.6 L1897.9 1363.7 L1901.8 1359.4 L1905.7 1358.3 L1909.6 1362.7 L1913.5 1363.7 L1917.4 1360.5 L1921.3 1357.4 L1925.2 1363.6 L1929.1 1360.9 L1933.0 1363.2 L1936.9 1361.2 L1940.8 1360.7 L1944.7 1360.6 L1948.6 1363.8 L1952.5 1363.8 L1956.4 1357.8 L1960.3 1359.8 L1964.2 1364.4 L1968.1 1360.8 L1972.0 1359.1 L1975.9 1361.5 L1979.8 1361.3 L1983.7 1361.3 L1987.6 1360.7 L1991.5 1361.0 L1995.4 1360.7 L1999.3 1362.1 L2003.2 1360.1 L2007.1 1361.0 L2011.0 1361.3 L2014.9 1363.7 L2018.8 1362.1 L2022.7 1361.3 L2026.6 1362.4 L2030.5 1362.2 L2034.4 1363.3 L2038.3 1362.4 L2042.2 1364.5 L2046.1 1363.8 L2049.9 1361.4 L2053.8 1360.8 L2057.7 1363.0 L2061.6 1362.4 L2065.5 1361.3 L2069.4 1359.0 L2073.3 1358.4 L2077.2 1362.1 L2081.1 1362.8 L2085.0 1362.9 L2088.9 1359.3 L2092.8 1363.3 L2096.7 1360.6 L2100.6 1362.2 L2104.5 1362.2 L2108.4 1360.1 L2112.3 1360.5 L2116.2 1358.0 L2120.1 1359.9 L2124.0 1358.4 L2127.9 1362.2 L2131.8 1361.6 L2135.7 1363.1 L2139.6 1362.1 L2143.5 1360.4 L2147.4 1362.1 L2151.3 1360.8 L2155.2 1362.5 L2159.1 1362.0 L2163.0 1359.8 L2166.9 1361.5 L2170.8 1361.6 L2174.7 1361.0 L2178.6 1363.0 L2182.5 1364.4 L2186.4 1360.9 L2190.3 1360.9 L2194.2 1357.7 L2198.1 1361.3 L2202.0 1360.8 L2205.9 1357.8 L2209.8 1362.0 L2213.7 1362.5 L2217.6 1360.3 L2221.5 1360.9 L2225.4 1359.9 L2229.3 1362.8 L2233.2 1358.9 L2237.1 1361.0 L2241.0 1364.8 L2249.0 1361.6" stroke="#8DA6CC"/>
</g>
<g stroke-width="10.7" stroke-linecap="round">
<line x1="373.5" y1="127.4" x2="461.5" y2="127.4" stroke="#DA7F36"/><line x1="373.5" y1="225.4" x2="461.5" y2="225.4" stroke="#4471A8"/><line x1="373.5" y1="322.2" x2="461.5" y2="322.2" stroke="#A8413E"/><line x1="373.5" y1="420.4" x2="461.5" y2="420.4" stroke="#88A64A"/><line x1="373.5" y1="516.4" x2="461.5" y2="516.4" stroke="#6E5590"/><line x1="373.5" y1="614.8" x2="461.5" y2="614.8" stroke="#3E98B0"/><line x1="373.5" y1="711.2" x2="461.5" y2="711.2" stroke="#8DA6CC"/>
</g>
<g class="t" font-size="55">
<text x="472" y="143.6">Methylene blue+Sodium borohydride</text><text x="472" y="241.6">3 min</text><text x="472" y="338.4">6 min</text><text x="472" y="436.6">12 min</text><text x="472" y="532.6">15 min</text><text x="472" y="631.0">20 min</text><text x="472" y="727.4">25 min</text>
</g>
<text class="t" font-size="64.3" x="2333.3" y="134.4" text-anchor="end">SeNPs-LS842</text>
<text class="t" font-size="61.2" transform="translate(123 783.6) rotate(-90)" text-anchor="middle">Absorbance</text>
<text class="t" font-size="63" x="1259" y="1543.6" text-anchor="middle"><tspan font-weight="normal">λ</tspan>, nm</text>
<defs>
<clipPath id="phclip"><rect x="1664" y="295" width="441" height="515.5"/></clipPath>
<linearGradient id="bgv" x1="0" y1="295" x2="0" y2="810.5" gradientUnits="userSpaceOnUse">
<stop offset="0" stop-color="#D2D2E6"/><stop offset="0.5" stop-color="#D9DAF0"/><stop offset="0.74" stop-color="#D6D7EE"/>
<stop offset="0.745" stop-color="#B9B9D0"/><stop offset="0.86" stop-color="#AAAAC2"/><stop offset="1" stop-color="#B1B4CD"/>
</linearGradient>
<radialGradient id="bglight" cx="1690" cy="610" r="120" gradientUnits="userSpaceOnUse">
<stop offset="0" stop-color="#E4E6FA" stop-opacity="0.9"/><stop offset="1" stop-color="#E4E6FA" stop-opacity="0"/>
</radialGradient>
<linearGradient id="capg" x1="0" y1="0" x2="1" y2="0">
<stop offset="0" stop-color="#10141E"/><stop offset="0.15" stop-color="#181C28"/><stop offset="0.5" stop-color="#272C39"/><stop offset="0.85" stop-color="#181C28"/><stop offset="1" stop-color="#10141E"/>
</linearGradient>
<linearGradient id="glassg" x1="0" y1="0" x2="1" y2="0">
<stop offset="0" stop-color="#9C9CB4"/><stop offset="0.06" stop-color="#C8C8DC" stop-opacity="0.4"/><stop offset="0.5" stop-color="#D8D8EE" stop-opacity="0.15"/><stop offset="0.94" stop-color="#C8C8DC" stop-opacity="0.4"/><stop offset="1" stop-color="#9C9CB4"/>
</linearGradient>
<linearGradient id="blueg" x1="0" y1="585" x2="0" y2="750" gradientUnits="userSpaceOnUse">
<stop offset="0" stop-color="#3A9AD2"/><stop offset="0.14" stop-color="#2F8FCB"/><stop offset="0.2" stop-color="#4AAEDB"/><stop offset="0.55" stop-color="#3EB2E2"/><stop offset="0.7" stop-color="#3C98CC"/><stop offset="0.9" stop-color="#3F8FC6"/><stop offset="1" stop-color="#3C9AD0"/>
</linearGradient>
<linearGradient id="bluec" x1="0" y1="0" x2="1" y2="0">
<stop offset="0" stop-color="#6EC4EA" stop-opacity="0.8"/><stop offset="0.2" stop-color="#3FA8DA" stop-opacity="0"/><stop offset="0.5" stop-color="#40C8F0" stop-opacity="0.35"/><stop offset="0.8" stop-color="#3FA8DA" stop-opacity="0"/><stop offset="1" stop-color="#6EC4EA" stop-opacity="0.8"/>
</linearGradient>
<linearGradient id="yelg" x1="0" y1="614" x2="0" y2="752" gradientUnits="userSpaceOnUse">
<stop offset="0" stop-color="#C4C2A8"/><stop offset="0.2" stop-color="#B9B6A2"/><stop offset="0.3" stop-color="#D2CCB6"/><stop offset="0.5" stop-color="#D0C8B0"/><stop offset="0.6" stop-color="#BCB09A"/><stop offset="0.85" stop-color="#C2B89E"/><stop offset="1" stop-color="#E8E6D6"/>
</linearGradient>
<linearGradient id="bandg" x1="0" y1="0" x2="1" y2="0">
<stop offset="0" stop-color="#7E7E88"/><stop offset="0.25" stop-color="#9A9AA8"/><stop offset="0.5" stop-color="#B4B4C4"/><stop offset="0.75" stop-color="#9A9AA8"/><stop offset="1" stop-color="#7E7E88"/>
</linearGradient>
</defs>
<g clip-path="url(#phclip)">
<rect x="1664" y="295" width="441" height="515.5" fill="url(#bgv)"/>
<rect x="1664" y="480" width="200" height="200" fill="url(#bglight)"/>
<!-- vial A -->
<path d="M1700 445 L1837 445 L1837 762 Q1837 778 1821 778 L1716 778 Q1700 778 1700 762 Z" fill="url(#glassg)"/>
<rect x="1714" y="447" width="110" height="18" fill="#8E8EA4"/>
<rect x="1700" y="585.5" width="137" height="162" fill="url(#blueg)"/>
<rect x="1700" y="600" width="137" height="147" fill="url(#bluec)"/>
<ellipse cx="1768" cy="592" rx="62" ry="10" fill="#2E8CCB"/>
<ellipse cx="1768" cy="588" rx="55" ry="6" fill="#9AB8D8"/>
<path d="M1706 740 Q1768 722 1830 742 L1830 748 Q1768 754 1706 748 Z" fill="#36DCF6"/>
<path d="M1703 748 L1834 748 L1834 762 Q1834 776 1820 776 L1717 776 Q1703 776 1703 762 Z" fill="#8EC2E2"/>
<path d="M1712 755 Q1768 770 1826 755" stroke="#5FA6D2" stroke-width="2" fill="none"/>
<rect x="1707.5" y="465" width="121.5" height="120.5" fill="#FFFFFF"/>
<text x="1768" y="551" font-family="Liberation Serif,serif" font-size="71" text-anchor="middle" fill="#000">A</text>
<rect x="1698.6" y="335" width="145.1" height="80" rx="2" fill="url(#capg)"/>
<rect x="1735" y="333" width="75" height="5" fill="#5A5C68"/>
<rect x="1695.4" y="413" width="153.1" height="12" rx="2" fill="#161A24"/>
<rect x="1695.4" y="425" width="153.1" height="13.5" fill="url(#bandg)"/>
<rect x="1714" y="439" width="110" height="8" rx="3" fill="#3E3E4C"/>
<!-- vial B -->
<path d="M1911 445 L2053 445 L2053 762 Q2053 779 2036 779 L1928 779 Q1911 779 1911 762 Z" fill="url(#glassg)"/>
<rect x="1930" y="449" width="104" height="16" fill="#8E8EA2"/>
<rect x="1930" y="585" width="104" height="30" fill="#C6C4D8"/>
<ellipse cx="1990" cy="592" rx="22" ry="8" fill="#A8A2D8"/>
<rect x="1913" y="614" width="139" height="138" fill="url(#yelg)"/>
<ellipse cx="1983" cy="622" rx="66" ry="8" fill="#BDBB9E"/>
<path d="M1916 744 Q1983 724 2050 744 L2050 752 Q1983 756 1916 752 Z" fill="#F2F2E6"/>
<path d="M1914 752 L2051 752 L2051 763 Q2051 777 2037 777 L1928 777 Q1914 777 1914 763 Z" fill="#BDBDC8"/>
<rect x="1925.3" y="465" width="116" height="120.5" fill="#FFFFFF"/>
<text x="1981" y="551" font-family="Liberation Serif,serif" font-size="71" text-anchor="middle" fill="#000">B</text>
<rect x="1903" y="335" width="151" height="80" rx="2" fill="url(#capg)"/>
<rect x="1935" y="333" width="86" height="5" fill="#5A5C68"/>
<rect x="1899.5" y="413" width="159" height="12" rx="2" fill="#161A24"/>
<rect x="1899.5" y="425" width="159" height="14" fill="url(#bandg)"/>
<rect x="1930.5" y="441" width="103" height="8" rx="3" fill="#3E3E4C"/>
</g>

</svg>
</body></html>
